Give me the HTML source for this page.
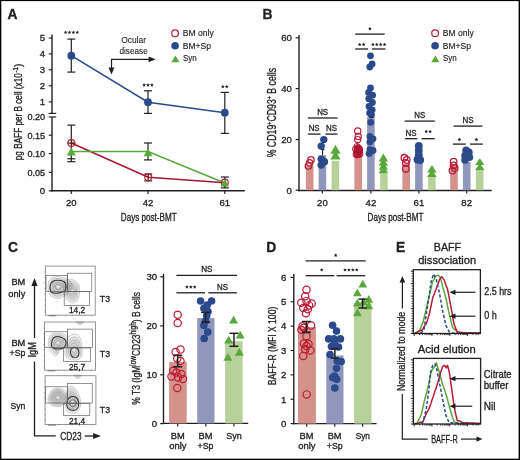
<!DOCTYPE html><html><head><meta charset="utf-8"><style>html,body{margin:0;padding:0;background:#fff;width:520px;height:460px;overflow:hidden}svg{display:block;will-change:transform}text{font-family:"Liberation Sans",sans-serif;fill:#231f20;stroke:#231f20;stroke-width:0.32px}</style></head><body>
<svg width="520" height="460" viewBox="0 0 520 460">
<rect width="520" height="460" fill="#fff"/>
<text x="7.6" y="19.0" font-size="13.8" font-weight="bold" fill="#000">A</text>
<line x1="52" y1="34.6" x2="52" y2="113.4" stroke="#231f20" stroke-width="1.4"/>
<line x1="52" y1="117.0" x2="52" y2="191.4" stroke="#231f20" stroke-width="1.4"/>
<line x1="48.7" y1="113.4" x2="56.2" y2="113.4" stroke="#231f20" stroke-width="1.2"/>
<line x1="48.7" y1="117.0" x2="56.2" y2="117.0" stroke="#231f20" stroke-width="1.2"/>
<line x1="51.3" y1="190.8" x2="244.8" y2="190.8" stroke="#231f20" stroke-width="1.4"/>
<line x1="48.8" y1="38.0" x2="52" y2="38.0" stroke="#231f20" stroke-width="1.2"/>
<text x="45.2" y="41.3" font-size="9.6" text-anchor="end">5</text>
<line x1="48.8" y1="53.9" x2="52" y2="53.9" stroke="#231f20" stroke-width="1.2"/>
<text x="45.2" y="57.199999999999996" font-size="9.6" text-anchor="end">4</text>
<line x1="48.8" y1="69.8" x2="52" y2="69.8" stroke="#231f20" stroke-width="1.2"/>
<text x="45.2" y="73.1" font-size="9.6" text-anchor="end">3</text>
<line x1="48.8" y1="85.8" x2="52" y2="85.8" stroke="#231f20" stroke-width="1.2"/>
<text x="45.2" y="89.1" font-size="9.6" text-anchor="end">2</text>
<line x1="48.8" y1="101.9" x2="52" y2="101.9" stroke="#231f20" stroke-width="1.2"/>
<text x="45.2" y="105.2" font-size="9.6" text-anchor="end">1</text>
<text x="45.2" y="120.3" font-size="9.6" text-anchor="end" textLength="17.8" lengthAdjust="spacingAndGlyphs">0.20</text>
<line x1="48.8" y1="135.2" x2="52" y2="135.2" stroke="#231f20" stroke-width="1.2"/>
<text x="45.2" y="138.5" font-size="9.6" text-anchor="end" textLength="17.8" lengthAdjust="spacingAndGlyphs">0.15</text>
<line x1="48.8" y1="153.6" x2="52" y2="153.6" stroke="#231f20" stroke-width="1.2"/>
<text x="45.2" y="156.9" font-size="9.6" text-anchor="end" textLength="17.8" lengthAdjust="spacingAndGlyphs">0.10</text>
<line x1="48.8" y1="172.4" x2="52" y2="172.4" stroke="#231f20" stroke-width="1.2"/>
<text x="45.2" y="175.70000000000002" font-size="9.6" text-anchor="end" textLength="17.8" lengthAdjust="spacingAndGlyphs">0.05</text>
<line x1="48.8" y1="190.8" x2="52" y2="190.8" stroke="#231f20" stroke-width="1.2"/>
<text x="45.2" y="194.10000000000002" font-size="9.6" text-anchor="end">0</text>
<line x1="71.3" y1="190.8" x2="71.3" y2="194.0" stroke="#231f20" stroke-width="1.2"/>
<text x="71.3" y="205.9" font-size="9.6" text-anchor="middle">20</text>
<line x1="148.0" y1="190.8" x2="148.0" y2="194.0" stroke="#231f20" stroke-width="1.2"/>
<text x="148.0" y="205.9" font-size="9.6" text-anchor="middle">42</text>
<line x1="224.8" y1="190.8" x2="224.8" y2="194.0" stroke="#231f20" stroke-width="1.2"/>
<text x="224.8" y="205.9" font-size="9.6" text-anchor="middle">61</text>
<text x="148.7" y="220.9" font-size="10" text-anchor="middle" textLength="55.8" lengthAdjust="spacingAndGlyphs">Days post-BMT</text>
<g transform="translate(22.0 160.2) rotate(-90)"><text x="0" y="0" font-size="11" textLength="87.0" lengthAdjust="spacingAndGlyphs">pg BAFF per B cell (x10</text><text x="87.6" y="-4.2" font-size="7.5" textLength="5.6" lengthAdjust="spacingAndGlyphs">-1</text><text x="93.2" y="0" font-size="11" textLength="3.4" lengthAdjust="spacingAndGlyphs">)</text></g>
<polyline points="71.3,143.1 148.2,177.2 224.8,182.8" fill="none" stroke="#a91631" stroke-width="1.6"/>
<polyline points="71.3,151.5 148.0,151.5 224.8,183.0" fill="none" stroke="#5aa83c" stroke-width="1.5"/>
<polyline points="71.3,55.7 148.0,102.2 224.8,112.7" fill="none" stroke="#2b4a8b" stroke-width="1.5"/>
<line x1="71.3" y1="39.1" x2="71.3" y2="72.1" stroke="#231f20" stroke-width="1.2"/>
<line x1="67.3" y1="39.1" x2="75.3" y2="39.1" stroke="#231f20" stroke-width="1.2"/>
<line x1="67.3" y1="72.1" x2="75.3" y2="72.1" stroke="#231f20" stroke-width="1.2"/>
<line x1="148.0" y1="90.8" x2="148.0" y2="113.4" stroke="#231f20" stroke-width="1.2"/>
<line x1="144.0" y1="90.8" x2="152.0" y2="90.8" stroke="#231f20" stroke-width="1.2"/>
<line x1="144.0" y1="113.4" x2="152.0" y2="113.4" stroke="#231f20" stroke-width="1.2"/>
<line x1="224.8" y1="92.4" x2="224.8" y2="133.4" stroke="#231f20" stroke-width="1.2"/>
<line x1="220.8" y1="92.4" x2="228.8" y2="92.4" stroke="#231f20" stroke-width="1.2"/>
<line x1="220.8" y1="133.4" x2="228.8" y2="133.4" stroke="#231f20" stroke-width="1.2"/>
<line x1="71.3" y1="125.1" x2="71.3" y2="161.7" stroke="#231f20" stroke-width="1.2"/>
<line x1="67.3" y1="125.1" x2="75.3" y2="125.1" stroke="#231f20" stroke-width="1.2"/>
<line x1="67.3" y1="161.7" x2="75.3" y2="161.7" stroke="#231f20" stroke-width="1.2"/>
<line x1="67.3" y1="158.8" x2="75.3" y2="158.8" stroke="#231f20" stroke-width="1.2"/>
<line x1="67.3" y1="143.1" x2="75.3" y2="143.1" stroke="#231f20" stroke-width="1.2"/>
<line x1="148.0" y1="143.0" x2="148.0" y2="159.9" stroke="#231f20" stroke-width="1.2"/>
<line x1="144.0" y1="143.0" x2="152.0" y2="143.0" stroke="#231f20" stroke-width="1.2"/>
<line x1="144.0" y1="159.9" x2="152.0" y2="159.9" stroke="#231f20" stroke-width="1.2"/>
<line x1="148.2" y1="174.0" x2="148.2" y2="180.9" stroke="#231f20" stroke-width="1.2"/>
<line x1="144.2" y1="174.0" x2="152.2" y2="174.0" stroke="#231f20" stroke-width="1.2"/>
<line x1="144.2" y1="180.9" x2="152.2" y2="180.9" stroke="#231f20" stroke-width="1.2"/>
<line x1="224.8" y1="177.0" x2="224.8" y2="187.9" stroke="#231f20" stroke-width="1.2"/>
<line x1="220.8" y1="177.0" x2="228.8" y2="177.0" stroke="#231f20" stroke-width="1.2"/>
<line x1="220.8" y1="187.9" x2="228.8" y2="187.9" stroke="#231f20" stroke-width="1.2"/>
<circle cx="71.3" cy="55.7" r="3.9" fill="#2b4a8b"/>
<circle cx="148.0" cy="102.2" r="3.9" fill="#2b4a8b"/>
<circle cx="224.8" cy="112.7" r="3.9" fill="#2b4a8b"/>
<circle cx="71.3" cy="143.1" r="3.5" fill="none" stroke="#bb1c38" stroke-width="1.2"/>
<circle cx="148.2" cy="177.2" r="3.4" fill="none" stroke="#bb1c38" stroke-width="1.2"/>
<circle cx="224.8" cy="182.6" r="3.4" fill="none" stroke="#bb1c38" stroke-width="1.2"/>
<polygon points="71.3,147.6 66.8,155.6 75.8,155.6" fill="#5aa83c"/>
<polygon points="148.0,148.6 143.5,156.2 152.5,156.2" fill="#5aa83c"/>
<polygon points="224.8,179.0 220.5,186.6 229.10000000000002,186.6" fill="#5aa83c"/>
<polygon points="65.55,30.40 66.08,31.67 67.45,31.78 66.41,32.68 66.73,34.02 65.55,33.30 64.37,34.02 64.69,32.68 63.65,31.78 65.02,31.67" fill="#231f20"/>
<polygon points="69.45,30.40 69.98,31.67 71.35,31.78 70.31,32.68 70.63,34.02 69.45,33.30 68.27,34.02 68.59,32.68 67.55,31.78 68.92,31.67" fill="#231f20"/>
<polygon points="73.35,30.40 73.88,31.67 75.25,31.78 74.21,32.68 74.53,34.02 73.35,33.30 72.17,34.02 72.49,32.68 71.45,31.78 72.82,31.67" fill="#231f20"/>
<polygon points="77.25,30.40 77.78,31.67 79.15,31.78 78.11,32.68 78.43,34.02 77.25,33.30 76.07,34.02 76.39,32.68 75.35,31.78 76.72,31.67" fill="#231f20"/>
<polygon points="144.10,83.10 144.63,84.37 146.00,84.48 144.96,85.38 145.28,86.72 144.10,86.00 142.92,86.72 143.24,85.38 142.20,84.48 143.57,84.37" fill="#231f20"/>
<polygon points="148.00,83.10 148.53,84.37 149.90,84.48 148.86,85.38 149.18,86.72 148.00,86.00 146.82,86.72 147.14,85.38 146.10,84.48 147.47,84.37" fill="#231f20"/>
<polygon points="151.90,83.10 152.43,84.37 153.80,84.48 152.76,85.38 153.08,86.72 151.90,86.00 150.72,86.72 151.04,85.38 150.00,84.48 151.37,84.37" fill="#231f20"/>
<polygon points="222.85,84.70 223.38,85.97 224.75,86.08 223.71,86.98 224.03,88.32 222.85,87.60 221.67,88.32 221.99,86.98 220.95,86.08 222.32,85.97" fill="#231f20"/>
<polygon points="226.75,84.70 227.28,85.97 228.65,86.08 227.61,86.98 227.93,88.32 226.75,87.60 225.57,88.32 225.89,86.98 224.85,86.08 226.22,85.97" fill="#231f20"/>
<text x="133.6" y="43.3" font-size="8.8" text-anchor="middle" textLength="24.8" lengthAdjust="spacingAndGlyphs" style="stroke-width:0.12px">Ocular</text>
<text x="133.6" y="53.5" font-size="8.8" text-anchor="middle" textLength="28.3" lengthAdjust="spacingAndGlyphs" style="stroke-width:0.12px">disease</text>
<polyline points="150,59.3 111.5,59.3 111.5,69" fill="none" stroke="#231f20" stroke-width="1.2"/>
<polygon points="155.6,59.3 148.6,56.4 148.6,62.199999999999996" fill="#231f20"/>
<polygon points="111.5,74.6 108.6,67.6 114.4,67.6" fill="#231f20"/>
<circle cx="175.1" cy="33.2" r="3.4" fill="none" stroke="#bb1c38" stroke-width="1.2"/>
<circle cx="175.1" cy="45.8" r="3.8" fill="#2b4a8b"/>
<polygon points="175.4,55.4 171.3,62.199999999999996 179.5,62.199999999999996" fill="#5aa83c"/>
<text x="182.79999999999998" y="36.4" font-size="8.8" textLength="30.9" lengthAdjust="spacingAndGlyphs" style="stroke-width:0.15px">BM only</text>
<text x="182.79999999999998" y="49.0" font-size="8.8" textLength="28.2" lengthAdjust="spacingAndGlyphs" style="stroke-width:0.15px">BM+Sp</text>
<text x="183.0" y="61.2" font-size="8.8" textLength="13.8" lengthAdjust="spacingAndGlyphs" style="stroke-width:0.15px">Syn</text>
<text x="262.6" y="18.8" font-size="13.8" font-weight="bold" fill="#000">B</text>
<line x1="299.0" y1="35.0" x2="299.0" y2="191.2" stroke="#231f20" stroke-width="1.4"/>
<line x1="295.6" y1="37.8" x2="299.0" y2="37.8" stroke="#231f20" stroke-width="1.2"/>
<text x="291.8" y="41.099999999999994" font-size="9.6" text-anchor="end">60</text>
<line x1="295.6" y1="88.6" x2="299.0" y2="88.6" stroke="#231f20" stroke-width="1.2"/>
<text x="291.8" y="91.89999999999999" font-size="9.6" text-anchor="end">40</text>
<line x1="295.6" y1="139.5" x2="299.0" y2="139.5" stroke="#231f20" stroke-width="1.2"/>
<text x="291.8" y="142.8" font-size="9.6" text-anchor="end">20</text>
<line x1="295.6" y1="190.2" x2="299.0" y2="190.2" stroke="#231f20" stroke-width="1.2"/>
<text x="291.8" y="193.5" font-size="9.6" text-anchor="end">0</text>
<line x1="298.3" y1="190.5" x2="491.7" y2="190.5" stroke="#231f20" stroke-width="1.4"/>
<line x1="322.4" y1="190.5" x2="322.4" y2="193.6" stroke="#231f20" stroke-width="1.2"/>
<text x="322.4" y="205.9" font-size="9.6" text-anchor="middle">20</text>
<line x1="370.9" y1="190.5" x2="370.9" y2="193.6" stroke="#231f20" stroke-width="1.2"/>
<text x="370.9" y="205.9" font-size="9.6" text-anchor="middle">42</text>
<line x1="418.9" y1="190.5" x2="418.9" y2="193.6" stroke="#231f20" stroke-width="1.2"/>
<text x="418.9" y="205.9" font-size="9.6" text-anchor="middle">61</text>
<line x1="466.7" y1="190.5" x2="466.7" y2="193.6" stroke="#231f20" stroke-width="1.2"/>
<text x="466.7" y="205.9" font-size="9.6" text-anchor="middle">82</text>
<text x="395.5" y="221.0" font-size="10" text-anchor="middle" textLength="55.8" lengthAdjust="spacingAndGlyphs">Days post-BMT</text>
<text x="0" y="0" font-size="12.3" text-anchor="middle" transform="translate(276.0 112.6) rotate(-90)" textLength="89.5" lengthAdjust="spacingAndGlyphs">% CD19<tspan font-size="7.5" dy="-4">+</tspan><tspan dy="4">CD93</tspan><tspan font-size="7.5" dy="-4">+</tspan><tspan dy="4"> B cells</tspan></text>
<rect x="305.9" y="165.7" width="7.6" height="24.5" fill="#d5928a"/>
<rect x="318.59999999999997" y="155.3" width="7.6" height="34.89999999999998" fill="#9197bc"/>
<rect x="331.59999999999997" y="160.8" width="7.6" height="29.399999999999977" fill="#b8d19a"/>
<rect x="354.4" y="156.8" width="7.6" height="33.39999999999998" fill="#d5928a"/>
<rect x="367.09999999999997" y="117.0" width="7.6" height="73.19999999999999" fill="#9197bc"/>
<rect x="380.09999999999997" y="173.2" width="7.6" height="17.0" fill="#b8d19a"/>
<rect x="402.4" y="164.0" width="7.6" height="26.19999999999999" fill="#d5928a"/>
<rect x="415.09999999999997" y="163.0" width="7.6" height="27.19999999999999" fill="#9197bc"/>
<rect x="428.09999999999997" y="176.5" width="7.6" height="13.699999999999989" fill="#b8d19a"/>
<rect x="450.2" y="163.8" width="7.6" height="26.399999999999977" fill="#d5928a"/>
<rect x="462.9" y="162.0" width="7.6" height="28.19999999999999" fill="#9197bc"/>
<rect x="475.9" y="169.7" width="7.6" height="20.5" fill="#b8d19a"/>
<circle cx="311.0" cy="159.8" r="3.2" fill="none" stroke="#bb1c38" stroke-width="1.3"/>
<circle cx="309.6" cy="162.8" r="3.2" fill="none" stroke="#bb1c38" stroke-width="1.3"/>
<circle cx="308.4" cy="166.0" r="3.2" fill="none" stroke="#bb1c38" stroke-width="1.3"/>
<line x1="322.6" y1="149.6" x2="322.6" y2="155.5" stroke="#231f20" stroke-width="1.1"/>
<line x1="320.8" y1="149.6" x2="324.4" y2="149.6" stroke="#231f20" stroke-width="1.1"/>
<circle cx="323.8" cy="139.6" r="3.7" fill="#2b4a8b"/>
<circle cx="321.2" cy="146.1" r="3.7" fill="#2b4a8b"/>
<circle cx="321.2" cy="159.1" r="3.7" fill="#2b4a8b"/>
<circle cx="324.5" cy="161.8" r="3.7" fill="#2b4a8b"/>
<circle cx="321.2" cy="165.1" r="3.7" fill="#2b4a8b"/>
<polygon points="335.5,144.8 330.4,153.8 340.6,153.8" fill="#5aa83c"/>
<polygon points="335.5,150.5 330.4,159.5 340.6,159.5" fill="#5aa83c"/>
<circle cx="357.7" cy="131.0" r="3.1" fill="none" stroke="#bb1c38" stroke-width="1.2"/>
<circle cx="358.2" cy="136.4" r="3.1" fill="none" stroke="#bb1c38" stroke-width="1.2"/>
<circle cx="357.7" cy="139.6" r="3.1" fill="none" stroke="#bb1c38" stroke-width="1.2"/>
<path d="M354.00,147.50 C354.67,146.08 356.17,144.17 357.50,144.00 C358.83,143.83 361.08,145.17 362.00,146.50 C362.92,147.83 363.25,150.17 363.00,152.00 C362.75,153.83 361.83,156.53 360.50,157.50 C359.17,158.47 356.17,158.63 355.00,157.80 C353.83,156.97 353.67,154.22 353.50,152.50 C353.33,150.78 353.33,148.92 354.00,147.50Z" fill="#bb1c38"/>
<circle cx="357" cy="146.5" r="3.0" fill="none" stroke="#a8142c" stroke-width="1.0"/>
<circle cx="355.5" cy="149" r="3.0" fill="none" stroke="#a8142c" stroke-width="1.0"/>
<circle cx="359.5" cy="149.5" r="3.0" fill="none" stroke="#a8142c" stroke-width="1.0"/>
<circle cx="357.5" cy="152.5" r="3.0" fill="none" stroke="#a8142c" stroke-width="1.0"/>
<circle cx="360" cy="154" r="3.0" fill="none" stroke="#a8142c" stroke-width="1.0"/>
<circle cx="356" cy="154.5" r="3.0" fill="none" stroke="#a8142c" stroke-width="1.0"/>
<circle cx="370.5" cy="55.8" r="3.4" fill="#2b4a8b"/>
<circle cx="372.1" cy="64.0" r="3.4" fill="#2b4a8b"/>
<circle cx="369.8" cy="67.0" r="3.4" fill="#2b4a8b"/>
<circle cx="370.5" cy="88.0" r="3.4" fill="#2b4a8b"/>
<circle cx="368.6" cy="92.5" r="3.4" fill="#2b4a8b"/>
<circle cx="372.6" cy="95.2" r="3.4" fill="#2b4a8b"/>
<circle cx="368.8" cy="98.7" r="3.4" fill="#2b4a8b"/>
<circle cx="372.4" cy="102.5" r="3.4" fill="#2b4a8b"/>
<circle cx="369.0" cy="106.5" r="3.4" fill="#2b4a8b"/>
<circle cx="372.2" cy="109.8" r="3.4" fill="#2b4a8b"/>
<circle cx="369.6" cy="113.0" r="3.4" fill="#2b4a8b"/>
<circle cx="371.5" cy="114.8" r="3.4" fill="#2b4a8b"/>
<circle cx="370.7" cy="122.3" r="3.4" fill="#2b4a8b"/>
<circle cx="369.9" cy="136.4" r="3.4" fill="#2b4a8b"/>
<circle cx="373.0" cy="138.8" r="3.4" fill="#2b4a8b"/>
<circle cx="369.9" cy="141.9" r="3.4" fill="#2b4a8b"/>
<circle cx="369.9" cy="149.7" r="3.4" fill="#2b4a8b"/>
<circle cx="373.0" cy="150.5" r="3.4" fill="#2b4a8b"/>
<circle cx="369.1" cy="153.6" r="3.4" fill="#2b4a8b"/>
<line x1="368.9" y1="117" x2="372.9" y2="117" stroke="#231f20" stroke-width="1.0"/>
<polygon points="383.4,153.6 378.7,161.4 388.09999999999997,161.4" fill="#5aa83c"/>
<polygon points="383.4,158.0 378.7,165.8 388.09999999999997,165.8" fill="#5aa83c"/>
<polygon points="383.4,162.0 378.7,169.8 388.09999999999997,169.8" fill="#5aa83c"/>
<polygon points="383.4,165.5 378.7,173.3 388.09999999999997,173.3" fill="#5aa83c"/>
<circle cx="404.4" cy="157.8" r="3.3" fill="none" stroke="#bb1c38" stroke-width="1.3"/>
<circle cx="406.7" cy="160.0" r="3.3" fill="none" stroke="#bb1c38" stroke-width="1.3"/>
<circle cx="405.8" cy="163.0" r="3.3" fill="none" stroke="#bb1c38" stroke-width="1.3"/>
<circle cx="405.8" cy="168.7" r="3.3" fill="none" stroke="#bb1c38" stroke-width="1.3"/>
<circle cx="418.8" cy="146.0" r="3.9" fill="#2b4a8b"/>
<circle cx="418.8" cy="150.5" r="3.9" fill="#2b4a8b"/>
<circle cx="418.8" cy="155.0" r="3.9" fill="#2b4a8b"/>
<circle cx="417.5" cy="159.5" r="3.9" fill="#2b4a8b"/>
<circle cx="420.2" cy="160.0" r="3.9" fill="#2b4a8b"/>
<polygon points="431.9,165.1 427.09999999999997,172.5 436.7,172.5" fill="#5aa83c"/>
<polygon points="431.9,169.6 427.09999999999997,177.0 436.7,177.0" fill="#5aa83c"/>
<circle cx="453.6" cy="161.6" r="3.3" fill="none" stroke="#bb1c38" stroke-width="1.3"/>
<circle cx="453.6" cy="165.4" r="3.3" fill="none" stroke="#bb1c38" stroke-width="1.3"/>
<circle cx="454.7" cy="168.0" r="3.3" fill="none" stroke="#bb1c38" stroke-width="1.3"/>
<circle cx="452.5" cy="170.6" r="3.3" fill="none" stroke="#bb1c38" stroke-width="1.3"/>
<circle cx="466.1" cy="150.2" r="3.8" fill="#2b4a8b"/>
<circle cx="468.9" cy="152.3" r="3.8" fill="#2b4a8b"/>
<circle cx="465.0" cy="155.6" r="3.8" fill="#2b4a8b"/>
<circle cx="469.4" cy="157.2" r="3.8" fill="#2b4a8b"/>
<circle cx="465.0" cy="160.0" r="3.8" fill="#2b4a8b"/>
<polygon points="479.8,158.3 475.1,165.10000000000002 484.5,165.10000000000002" fill="#5aa83c"/>
<polygon points="479.8,163.2 475.1,170.0 484.5,170.0" fill="#5aa83c"/>
<line x1="307.8" y1="118.0" x2="337.5" y2="118.0" stroke="#231f20" stroke-width="1.3"/>
<text x="322.65" y="115.3" font-size="9" text-anchor="middle" textLength="11.0" lengthAdjust="spacingAndGlyphs">NS</text>
<line x1="307.8" y1="134.1" x2="320.5" y2="134.1" stroke="#231f20" stroke-width="1.3"/>
<text x="314.15" y="131.4" font-size="9" text-anchor="middle" textLength="11.0" lengthAdjust="spacingAndGlyphs">NS</text>
<line x1="325.4" y1="134.1" x2="337.5" y2="134.1" stroke="#231f20" stroke-width="1.3"/>
<text x="331.45" y="131.4" font-size="9" text-anchor="middle" textLength="11.0" lengthAdjust="spacingAndGlyphs">NS</text>
<line x1="355.2" y1="34.1" x2="384.7" y2="34.1" stroke="#231f20" stroke-width="1.3"/>
<polygon points="369.95,26.80 370.48,28.07 371.85,28.18 370.81,29.08 371.13,30.42 369.95,29.70 368.77,30.42 369.09,29.08 368.05,28.18 369.42,28.07" fill="#231f20"/>
<line x1="355.2" y1="49.0" x2="368.1" y2="49.0" stroke="#231f20" stroke-width="1.3"/>
<polygon points="359.70,42.50 360.23,43.77 361.60,43.88 360.56,44.78 360.88,46.12 359.70,45.40 358.52,46.12 358.84,44.78 357.80,43.88 359.17,43.77" fill="#231f20"/>
<polygon points="363.60,42.50 364.13,43.77 365.50,43.88 364.46,44.78 364.78,46.12 363.60,45.40 362.42,46.12 362.74,44.78 361.70,43.88 363.07,43.77" fill="#231f20"/>
<line x1="372.0" y1="49.0" x2="385.5" y2="49.0" stroke="#231f20" stroke-width="1.3"/>
<polygon points="372.90,42.50 373.43,43.77 374.80,43.88 373.76,44.78 374.08,46.12 372.90,45.40 371.72,46.12 372.04,44.78 371.00,43.88 372.37,43.77" fill="#231f20"/>
<polygon points="376.80,42.50 377.33,43.77 378.70,43.88 377.66,44.78 377.98,46.12 376.80,45.40 375.62,46.12 375.94,44.78 374.90,43.88 376.27,43.77" fill="#231f20"/>
<polygon points="380.70,42.50 381.23,43.77 382.60,43.88 381.56,44.78 381.88,46.12 380.70,45.40 379.52,46.12 379.84,44.78 378.80,43.88 380.17,43.77" fill="#231f20"/>
<polygon points="384.60,42.50 385.13,43.77 386.50,43.88 385.46,44.78 385.78,46.12 384.60,45.40 383.42,46.12 383.74,44.78 382.70,43.88 384.07,43.77" fill="#231f20"/>
<line x1="404.8" y1="121.1" x2="434.8" y2="121.1" stroke="#231f20" stroke-width="1.3"/>
<text x="419.8" y="118.39999999999999" font-size="9" text-anchor="middle" textLength="11.0" lengthAdjust="spacingAndGlyphs">NS</text>
<line x1="404.8" y1="138.7" x2="417.4" y2="138.7" stroke="#231f20" stroke-width="1.3"/>
<text x="411.1" y="136.0" font-size="9" text-anchor="middle" textLength="11.0" lengthAdjust="spacingAndGlyphs">NS</text>
<line x1="421.5" y1="138.7" x2="434.8" y2="138.7" stroke="#231f20" stroke-width="1.3"/>
<polygon points="426.20,129.50 426.73,130.77 428.10,130.88 427.06,131.78 427.38,133.12 426.20,132.40 425.02,133.12 425.34,131.78 424.30,130.88 425.67,130.77" fill="#231f20"/>
<polygon points="430.10,129.50 430.63,130.77 432.00,130.88 430.96,131.78 431.28,133.12 430.10,132.40 428.92,133.12 429.24,131.78 428.20,130.88 429.57,130.77" fill="#231f20"/>
<line x1="453.5" y1="126.1" x2="482.4" y2="126.1" stroke="#231f20" stroke-width="1.3"/>
<text x="467.95" y="123.39999999999999" font-size="9" text-anchor="middle" textLength="11.0" lengthAdjust="spacingAndGlyphs">NS</text>
<line x1="453.0" y1="144.1" x2="465.7" y2="144.1" stroke="#231f20" stroke-width="1.3"/>
<polygon points="459.35,137.60 459.88,138.87 461.25,138.98 460.21,139.88 460.53,141.22 459.35,140.50 458.17,141.22 458.49,139.88 457.45,138.98 458.82,138.87" fill="#231f20"/>
<line x1="470.0" y1="144.1" x2="482.8" y2="144.1" stroke="#231f20" stroke-width="1.3"/>
<polygon points="476.40,137.60 476.93,138.87 478.30,138.98 477.26,139.88 477.58,141.22 476.40,140.50 475.22,141.22 475.54,139.88 474.50,138.98 475.87,138.87" fill="#231f20"/>
<circle cx="435.1" cy="33.2" r="3.4" fill="none" stroke="#bb1c38" stroke-width="1.2"/>
<circle cx="435.1" cy="45.8" r="3.8" fill="#2b4a8b"/>
<polygon points="435.40000000000003,55.4 431.3,62.199999999999996 439.50000000000006,62.199999999999996" fill="#5aa83c"/>
<text x="442.8" y="36.4" font-size="8.8" textLength="30.9" lengthAdjust="spacingAndGlyphs" style="stroke-width:0.15px">BM only</text>
<text x="442.8" y="49.0" font-size="8.8" textLength="28.2" lengthAdjust="spacingAndGlyphs" style="stroke-width:0.15px">BM+Sp</text>
<text x="443.0" y="61.2" font-size="8.8" textLength="13.8" lengthAdjust="spacingAndGlyphs" style="stroke-width:0.15px">Syn</text>
<text x="8.0" y="252.1" font-size="13.8" font-weight="bold" fill="#000">C</text>
<rect x="45.4" y="266.1" width="49.800000000000004" height="49.099999999999966" fill="none" stroke="#8a8a8a" stroke-width="0.9"/>
<line x1="44.4" y1="272.1" x2="45.699999999999996" y2="272.1" stroke="#777" stroke-width="0.6"/>
<line x1="44.4" y1="277.6" x2="45.699999999999996" y2="277.6" stroke="#777" stroke-width="0.6"/>
<line x1="44.4" y1="283.1" x2="45.699999999999996" y2="283.1" stroke="#777" stroke-width="0.6"/>
<line x1="44.4" y1="288.6" x2="45.699999999999996" y2="288.6" stroke="#777" stroke-width="0.6"/>
<line x1="44.4" y1="294.1" x2="45.699999999999996" y2="294.1" stroke="#777" stroke-width="0.6"/>
<line x1="44.4" y1="299.6" x2="45.699999999999996" y2="299.6" stroke="#777" stroke-width="0.6"/>
<line x1="44.4" y1="305.1" x2="45.699999999999996" y2="305.1" stroke="#777" stroke-width="0.6"/>
<line x1="44.4" y1="310.6" x2="45.699999999999996" y2="310.6" stroke="#777" stroke-width="0.6"/>
<line x1="48.4" y1="315.8" x2="56.4" y2="315.8" stroke="#666" stroke-width="0.9"/>
<line x1="59.4" y1="314.9" x2="59.4" y2="316.2" stroke="#888" stroke-width="0.6"/>
<line x1="65.9" y1="314.9" x2="65.9" y2="316.2" stroke="#888" stroke-width="0.6"/>
<line x1="72.4" y1="314.9" x2="72.4" y2="316.2" stroke="#888" stroke-width="0.6"/>
<line x1="78.9" y1="314.9" x2="78.9" y2="316.2" stroke="#888" stroke-width="0.6"/>
<line x1="85.4" y1="314.9" x2="85.4" y2="316.2" stroke="#888" stroke-width="0.6"/>
<line x1="91.9" y1="314.9" x2="91.9" y2="316.2" stroke="#888" stroke-width="0.6"/>
<path d="M64.50,281.00 C65.83,278.58 69.67,279.00 72.00,279.50 C74.33,280.00 77.25,281.92 78.50,284.00 C79.75,286.08 79.58,289.33 79.50,292.00 C79.42,294.67 79.08,298.17 78.00,300.00 C76.92,301.83 74.83,303.00 73.00,303.00 C71.17,303.00 68.50,301.50 67.00,300.00 C65.50,298.50 64.42,297.17 64.00,294.00 C63.58,290.83 63.17,283.42 64.50,281.00Z" fill="#000" fill-opacity="0.06" stroke="#7a7a7a" stroke-opacity="0.55" stroke-width="0.6"/>
<path d="M65.91,282.88 C66.99,280.91 70.10,281.25 72.00,281.66 C73.90,282.06 76.27,283.62 77.28,285.31 C78.30,287.01 78.16,289.65 78.09,291.81 C78.03,293.98 77.76,296.82 76.88,298.31 C75.99,299.80 74.30,300.75 72.81,300.75 C71.32,300.75 69.16,299.53 67.94,298.31 C66.72,297.09 65.84,296.01 65.50,293.44 C65.16,290.86 64.82,284.84 65.91,282.88Z" fill="#000" fill-opacity="0.06" stroke="#7a7a7a" stroke-opacity="0.55" stroke-width="0.6"/>
<path d="M67.31,284.75 C68.15,283.24 70.54,283.50 72.00,283.81 C73.46,284.12 75.28,285.32 76.06,286.62 C76.84,287.93 76.74,289.96 76.69,291.62 C76.64,293.29 76.43,295.48 75.75,296.62 C75.07,297.77 73.77,298.50 72.62,298.50 C71.48,298.50 69.81,297.56 68.88,296.62 C67.94,295.69 67.26,294.85 67.00,292.88 C66.74,290.90 66.48,286.26 67.31,284.75Z" fill="#000" fill-opacity="0.06" stroke="#7a7a7a" stroke-opacity="0.55" stroke-width="0.6"/>
<path d="M68.72,286.62 C69.30,285.57 70.98,285.75 72.00,285.97 C73.02,286.19 74.30,287.03 74.84,287.94 C75.39,288.85 75.32,290.27 75.28,291.44 C75.24,292.60 75.10,294.14 74.62,294.94 C74.15,295.74 73.24,296.25 72.44,296.25 C71.64,296.25 70.47,295.59 69.81,294.94 C69.16,294.28 68.68,293.70 68.50,292.31 C68.32,290.93 68.14,287.68 68.72,286.62Z" fill="#000" fill-opacity="0" stroke="#7a7a7a" stroke-opacity="0.55" stroke-width="0.6"/>
<path d="M70.12,288.50 C70.46,287.90 71.42,288.00 72.00,288.12 C72.58,288.25 73.31,288.73 73.62,289.25 C73.94,289.77 73.90,290.58 73.88,291.25 C73.85,291.92 73.77,292.79 73.50,293.25 C73.23,293.71 72.71,294.00 72.25,294.00 C71.79,294.00 71.12,293.62 70.75,293.25 C70.38,292.88 70.10,292.54 70.00,291.75 C69.90,290.96 69.79,289.10 70.12,288.50Z" fill="#000" fill-opacity="0" stroke="#7a7a7a" stroke-opacity="0.55" stroke-width="0.6"/>
<ellipse cx="72" cy="291" rx="1.3" ry="1.0" fill="#fff" fill-opacity="0.6"/>
<path d="M48.00,285.00 C48.33,282.08 49.67,278.83 52.00,277.50 C54.33,276.17 59.00,276.42 62.00,277.00 C65.00,277.58 68.33,279.17 70.00,281.00 C71.67,282.83 72.67,285.67 72.00,288.00 C71.33,290.33 68.33,293.25 66.00,295.00 C63.67,296.75 60.67,298.50 58.00,298.50 C55.33,298.50 51.67,297.25 50.00,295.00 C48.33,292.75 47.67,287.92 48.00,285.00Z" fill="#000" fill-opacity="0.07" stroke="#7a7a7a" stroke-opacity="0.55" stroke-width="0.6"/>
<path d="M49.88,285.38 C50.15,283.01 51.23,280.36 53.12,279.28 C55.02,278.20 58.81,278.40 61.25,278.88 C63.69,279.35 66.40,280.64 67.75,282.12 C69.10,283.61 69.92,285.92 69.38,287.81 C68.83,289.71 66.40,292.08 64.50,293.50 C62.60,294.92 60.17,296.34 58.00,296.34 C55.83,296.34 52.85,295.33 51.50,293.50 C50.15,291.67 49.60,287.74 49.88,285.38Z" fill="#000" fill-opacity="0.07" stroke="#7a7a7a" stroke-opacity="0.55" stroke-width="0.6"/>
<path d="M51.75,285.75 C51.96,283.93 52.79,281.90 54.25,281.06 C55.71,280.23 58.62,280.39 60.50,280.75 C62.38,281.11 64.46,282.10 65.50,283.25 C66.54,284.40 67.17,286.17 66.75,287.62 C66.33,289.08 64.46,290.91 63.00,292.00 C61.54,293.09 59.67,294.19 58.00,294.19 C56.33,294.19 54.04,293.41 53.00,292.00 C51.96,290.59 51.54,287.57 51.75,285.75Z" fill="#000" fill-opacity="0.07" stroke="#7a7a7a" stroke-opacity="0.55" stroke-width="0.6"/>
<path d="M53.62,286.12 C53.77,284.85 54.35,283.43 55.38,282.84 C56.40,282.26 58.44,282.37 59.75,282.62 C61.06,282.88 62.52,283.57 63.25,284.38 C63.98,285.18 64.42,286.42 64.12,287.44 C63.83,288.46 62.52,289.73 61.50,290.50 C60.48,291.27 59.17,292.03 58.00,292.03 C56.83,292.03 55.23,291.48 54.50,290.50 C53.77,289.52 53.48,287.40 53.62,286.12Z" fill="#000" fill-opacity="0" stroke="#7a7a7a" stroke-opacity="0.55" stroke-width="0.6"/>
<path d="M55.50,286.50 C55.58,285.77 55.92,284.96 56.50,284.62 C57.08,284.29 58.25,284.35 59.00,284.50 C59.75,284.65 60.58,285.04 61.00,285.50 C61.42,285.96 61.67,286.67 61.50,287.25 C61.33,287.83 60.58,288.56 60.00,289.00 C59.42,289.44 58.67,289.88 58.00,289.88 C57.33,289.88 56.42,289.56 56.00,289.00 C55.58,288.44 55.42,287.23 55.50,286.50Z" fill="#000" fill-opacity="0" stroke="#7a7a7a" stroke-opacity="0.55" stroke-width="0.6"/>
<ellipse cx="58" cy="287" rx="1.3" ry="1.0" fill="#fff" fill-opacity="0.6"/>
<path d="M50.00,287.00 C50.17,285.12 51.17,282.27 53.00,281.20 C54.83,280.13 58.92,280.22 61.00,280.60 C63.08,280.98 64.83,281.85 65.50,283.50 C66.17,285.15 66.00,288.95 65.00,290.50 C64.00,292.05 61.67,292.47 59.50,292.80 C57.33,293.13 53.58,293.47 52.00,292.50 C50.42,291.53 49.83,288.88 50.00,287.00Z" fill="none" stroke="#3a3a3a" stroke-width="1.05"/>
<path d="M54.50,286.50 C54.33,285.58 55.92,284.33 57.00,284.00 C58.08,283.67 60.17,283.92 61.00,284.50 C61.83,285.08 62.50,286.67 62.00,287.50 C61.50,288.33 59.25,289.67 58.00,289.50 C56.75,289.33 54.67,287.42 54.50,286.50Z" fill="none" stroke="#888" stroke-width="0.6"/>
<rect x="46.0" y="275.5" width="21.599999999999994" height="16.100000000000023" fill="none" stroke="#5c5c5c" stroke-width="0.65"/>
<rect x="67.6" y="273.2" width="24.200000000000003" height="18.400000000000034" fill="none" stroke="#5c5c5c" stroke-width="0.65"/>
<rect x="64.2" y="291.6" width="25.299999999999997" height="13.899999999999977" fill="none" stroke="#5c5c5c" stroke-width="0.65"/>
<text x="77.0" y="313.3" font-size="9" text-anchor="middle" textLength="16.2" lengthAdjust="spacingAndGlyphs">14,2</text>
<text x="99.8" y="301.8" font-size="8.8" textLength="10.2" lengthAdjust="spacingAndGlyphs">T3</text>
<rect x="44.5" y="322.0" width="51.0" height="48.19999999999999" fill="none" stroke="#8a8a8a" stroke-width="0.9"/>
<line x1="43.5" y1="328.0" x2="44.8" y2="328.0" stroke="#777" stroke-width="0.6"/>
<line x1="43.5" y1="333.5" x2="44.8" y2="333.5" stroke="#777" stroke-width="0.6"/>
<line x1="43.5" y1="339.0" x2="44.8" y2="339.0" stroke="#777" stroke-width="0.6"/>
<line x1="43.5" y1="344.5" x2="44.8" y2="344.5" stroke="#777" stroke-width="0.6"/>
<line x1="43.5" y1="350.0" x2="44.8" y2="350.0" stroke="#777" stroke-width="0.6"/>
<line x1="43.5" y1="355.5" x2="44.8" y2="355.5" stroke="#777" stroke-width="0.6"/>
<line x1="43.5" y1="361.0" x2="44.8" y2="361.0" stroke="#777" stroke-width="0.6"/>
<line x1="43.5" y1="366.5" x2="44.8" y2="366.5" stroke="#777" stroke-width="0.6"/>
<line x1="47.5" y1="370.8" x2="55.5" y2="370.8" stroke="#666" stroke-width="0.9"/>
<line x1="58.5" y1="369.9" x2="58.5" y2="371.2" stroke="#888" stroke-width="0.6"/>
<line x1="65.0" y1="369.9" x2="65.0" y2="371.2" stroke="#888" stroke-width="0.6"/>
<line x1="71.5" y1="369.9" x2="71.5" y2="371.2" stroke="#888" stroke-width="0.6"/>
<line x1="78.0" y1="369.9" x2="78.0" y2="371.2" stroke="#888" stroke-width="0.6"/>
<line x1="84.5" y1="369.9" x2="84.5" y2="371.2" stroke="#888" stroke-width="0.6"/>
<line x1="91.0" y1="369.9" x2="91.0" y2="371.2" stroke="#888" stroke-width="0.6"/>
<path d="M76.00,322.20 C76.00,321.70 78.67,321.60 80.00,321.60 C81.33,321.60 84.00,321.70 84.00,322.20 C84.00,322.70 81.33,324.60 80.00,324.60 C78.67,324.60 76.00,322.70 76.00,322.20Z" fill="#000" fill-opacity="0.1" stroke="#7a7a7a" stroke-opacity="0.55" stroke-width="0.6"/>
<path d="M79.00,322.80 C79.00,322.68 79.67,322.65 80.00,322.65 C80.33,322.65 81.00,322.68 81.00,322.80 C81.00,322.93 80.33,323.40 80.00,323.40 C79.67,323.40 79.00,322.93 79.00,322.80Z" fill="#000" fill-opacity="0" stroke="#7a7a7a" stroke-opacity="0.55" stroke-width="0.6"/>
<path d="M48.50,341.00 C48.83,338.33 49.75,335.25 52.00,334.00 C54.25,332.75 59.50,333.00 62.00,333.50 C64.50,334.00 66.25,334.92 67.00,337.00 C67.75,339.08 67.67,343.83 66.50,346.00 C65.33,348.17 61.75,348.33 60.00,350.00 C58.25,351.67 57.67,356.00 56.00,356.00 C54.33,356.00 51.25,352.50 50.00,350.00 C48.75,347.50 48.17,343.67 48.50,341.00Z" fill="#000" fill-opacity="0.07" stroke="#7a7a7a" stroke-opacity="0.55" stroke-width="0.6"/>
<path d="M50.28,341.38 C50.55,339.21 51.30,336.70 53.12,335.69 C54.95,334.67 59.22,334.88 61.25,335.28 C63.28,335.69 64.70,336.43 65.31,338.12 C65.92,339.82 65.85,343.68 64.91,345.44 C63.96,347.20 61.05,347.33 59.62,348.69 C58.20,350.04 57.73,353.56 56.38,353.56 C55.02,353.56 52.52,350.72 51.50,348.69 C50.48,346.66 50.01,343.54 50.28,341.38Z" fill="#000" fill-opacity="0.07" stroke="#7a7a7a" stroke-opacity="0.55" stroke-width="0.6"/>
<path d="M52.06,341.75 C52.27,340.08 52.84,338.16 54.25,337.38 C55.66,336.59 58.94,336.75 60.50,337.06 C62.06,337.38 63.16,337.95 63.62,339.25 C64.09,340.55 64.04,343.52 63.31,344.88 C62.58,346.23 60.34,346.33 59.25,347.38 C58.16,348.42 57.79,351.12 56.75,351.12 C55.71,351.12 53.78,348.94 53.00,347.38 C52.22,345.81 51.85,343.42 52.06,341.75Z" fill="#000" fill-opacity="0.07" stroke="#7a7a7a" stroke-opacity="0.55" stroke-width="0.6"/>
<path d="M53.84,342.12 C53.99,340.96 54.39,339.61 55.38,339.06 C56.36,338.52 58.66,338.62 59.75,338.84 C60.84,339.06 61.61,339.46 61.94,340.38 C62.27,341.29 62.23,343.36 61.72,344.31 C61.21,345.26 59.64,345.33 58.88,346.06 C58.11,346.79 57.85,348.69 57.12,348.69 C56.40,348.69 55.05,347.16 54.50,346.06 C53.95,344.97 53.70,343.29 53.84,342.12Z" fill="#000" fill-opacity="0" stroke="#7a7a7a" stroke-opacity="0.55" stroke-width="0.6"/>
<path d="M55.62,342.50 C55.71,341.83 55.94,341.06 56.50,340.75 C57.06,340.44 58.38,340.50 59.00,340.62 C59.62,340.75 60.06,340.98 60.25,341.50 C60.44,342.02 60.42,343.21 60.12,343.75 C59.83,344.29 58.94,344.33 58.50,344.75 C58.06,345.17 57.92,346.25 57.50,346.25 C57.08,346.25 56.31,345.38 56.00,344.75 C55.69,344.12 55.54,343.17 55.62,342.50Z" fill="#000" fill-opacity="0" stroke="#7a7a7a" stroke-opacity="0.55" stroke-width="0.6"/>
<ellipse cx="58" cy="343" rx="1.3" ry="1.0" fill="#fff" fill-opacity="0.6"/>
<path d="M66.00,340.00 C67.17,337.58 69.83,335.17 72.00,334.50 C74.17,333.83 77.33,334.08 79.00,336.00 C80.67,337.92 81.58,342.50 82.00,346.00 C82.42,349.50 82.83,354.67 81.50,357.00 C80.17,359.33 76.58,360.00 74.00,360.00 C71.42,360.00 67.50,358.83 66.00,357.00 C64.50,355.17 65.00,351.83 65.00,349.00 C65.00,346.17 64.83,342.42 66.00,340.00Z" fill="#000" fill-opacity="0.06" stroke="#7a7a7a" stroke-opacity="0.55" stroke-width="0.6"/>
<path d="M67.50,341.88 C68.45,339.91 70.61,337.95 72.38,337.41 C74.14,336.86 76.71,337.07 78.06,338.62 C79.42,340.18 80.16,343.91 80.50,346.75 C80.84,349.59 81.18,353.79 80.09,355.69 C79.01,357.58 76.10,358.12 74.00,358.12 C71.90,358.12 68.72,357.18 67.50,355.69 C66.28,354.20 66.69,351.49 66.69,349.19 C66.69,346.89 66.55,343.84 67.50,341.88Z" fill="#000" fill-opacity="0.06" stroke="#7a7a7a" stroke-opacity="0.55" stroke-width="0.6"/>
<path d="M69.00,343.75 C69.73,342.24 71.40,340.73 72.75,340.31 C74.10,339.90 76.08,340.05 77.12,341.25 C78.17,342.45 78.74,345.31 79.00,347.50 C79.26,349.69 79.52,352.92 78.69,354.38 C77.85,355.83 75.61,356.25 74.00,356.25 C72.39,356.25 69.94,355.52 69.00,354.38 C68.06,353.23 68.38,351.15 68.38,349.38 C68.38,347.60 68.27,345.26 69.00,343.75Z" fill="#000" fill-opacity="0.06" stroke="#7a7a7a" stroke-opacity="0.55" stroke-width="0.6"/>
<path d="M70.50,345.62 C71.01,344.57 72.18,343.51 73.12,343.22 C74.07,342.93 75.46,343.04 76.19,343.88 C76.92,344.71 77.32,346.72 77.50,348.25 C77.68,349.78 77.86,352.04 77.28,353.06 C76.70,354.08 75.13,354.38 74.00,354.38 C72.87,354.38 71.16,353.86 70.50,353.06 C69.84,352.26 70.06,350.80 70.06,349.56 C70.06,348.32 69.99,346.68 70.50,345.62Z" fill="#000" fill-opacity="0" stroke="#7a7a7a" stroke-opacity="0.55" stroke-width="0.6"/>
<path d="M72.00,347.50 C72.29,346.90 72.96,346.29 73.50,346.12 C74.04,345.96 74.83,346.02 75.25,346.50 C75.67,346.98 75.90,348.12 76.00,349.00 C76.10,349.88 76.21,351.17 75.88,351.75 C75.54,352.33 74.65,352.50 74.00,352.50 C73.35,352.50 72.38,352.21 72.00,351.75 C71.62,351.29 71.75,350.46 71.75,349.75 C71.75,349.04 71.71,348.10 72.00,347.50Z" fill="#000" fill-opacity="0" stroke="#7a7a7a" stroke-opacity="0.55" stroke-width="0.6"/>
<ellipse cx="74" cy="350" rx="1.3" ry="1.0" fill="#fff" fill-opacity="0.6"/>
<path d="M51.50,343.50 C51.75,341.83 52.50,338.58 54.00,337.50 C55.50,336.42 58.50,336.33 60.50,337.00 C62.50,337.67 65.42,339.75 66.00,341.50 C66.58,343.25 65.33,346.25 64.00,347.50 C62.67,348.75 59.92,349.00 58.00,349.00 C56.08,349.00 53.58,348.42 52.50,347.50 C51.42,346.58 51.25,345.17 51.50,343.50Z" fill="none" stroke="#3a3a3a" stroke-width="1.05"/>
<path d="M70.50,351.00 C70.67,349.55 71.83,348.22 73.00,347.80 C74.17,347.38 76.50,347.55 77.50,348.50 C78.50,349.45 79.08,352.08 79.00,353.50 C78.92,354.92 78.17,356.50 77.00,357.00 C75.83,357.50 73.08,357.50 72.00,356.50 C70.92,355.50 70.33,352.45 70.50,351.00Z" fill="none" stroke="#3a3a3a" stroke-width="1.05"/>
<rect x="44.7" y="331.8" width="22.89999999999999" height="15.5" fill="none" stroke="#5c5c5c" stroke-width="0.65"/>
<rect x="67.6" y="329.1" width="24.900000000000006" height="18.19999999999999" fill="none" stroke="#5c5c5c" stroke-width="0.65"/>
<rect x="63.6" y="348.0" width="26.9" height="13.399999999999977" fill="none" stroke="#5c5c5c" stroke-width="0.65"/>
<text x="77.0" y="369.6" font-size="9" text-anchor="middle" textLength="16.2" lengthAdjust="spacingAndGlyphs">25,7</text>
<text x="99.8" y="356.8" font-size="8.8" textLength="10.2" lengthAdjust="spacingAndGlyphs">T3</text>
<rect x="45.1" y="375.7" width="50.800000000000004" height="48.80000000000001" fill="none" stroke="#8a8a8a" stroke-width="0.9"/>
<line x1="44.1" y1="381.7" x2="45.4" y2="381.7" stroke="#777" stroke-width="0.6"/>
<line x1="44.1" y1="387.2" x2="45.4" y2="387.2" stroke="#777" stroke-width="0.6"/>
<line x1="44.1" y1="392.7" x2="45.4" y2="392.7" stroke="#777" stroke-width="0.6"/>
<line x1="44.1" y1="398.2" x2="45.4" y2="398.2" stroke="#777" stroke-width="0.6"/>
<line x1="44.1" y1="403.7" x2="45.4" y2="403.7" stroke="#777" stroke-width="0.6"/>
<line x1="44.1" y1="409.2" x2="45.4" y2="409.2" stroke="#777" stroke-width="0.6"/>
<line x1="44.1" y1="414.7" x2="45.4" y2="414.7" stroke="#777" stroke-width="0.6"/>
<line x1="44.1" y1="420.2" x2="45.4" y2="420.2" stroke="#777" stroke-width="0.6"/>
<line x1="48.1" y1="425.1" x2="56.1" y2="425.1" stroke="#666" stroke-width="0.9"/>
<line x1="59.1" y1="424.2" x2="59.1" y2="425.5" stroke="#888" stroke-width="0.6"/>
<line x1="65.6" y1="424.2" x2="65.6" y2="425.5" stroke="#888" stroke-width="0.6"/>
<line x1="72.1" y1="424.2" x2="72.1" y2="425.5" stroke="#888" stroke-width="0.6"/>
<line x1="78.6" y1="424.2" x2="78.6" y2="425.5" stroke="#888" stroke-width="0.6"/>
<line x1="85.1" y1="424.2" x2="85.1" y2="425.5" stroke="#888" stroke-width="0.6"/>
<line x1="91.6" y1="424.2" x2="91.6" y2="425.5" stroke="#888" stroke-width="0.6"/>
<path d="M74.00,375.60 C74.00,375.03 76.75,375.20 78.00,375.20 C79.25,375.20 81.50,375.03 81.50,375.60 C81.50,376.17 79.25,378.60 78.00,378.60 C76.75,378.60 74.00,376.17 74.00,375.60Z" fill="#000" fill-opacity="0.1" stroke="#7a7a7a" stroke-opacity="0.55" stroke-width="0.6"/>
<path d="M77.00,376.35 C77.00,376.21 77.69,376.25 78.00,376.25 C78.31,376.25 78.88,376.21 78.88,376.35 C78.88,376.49 78.31,377.10 78.00,377.10 C77.69,377.10 77.00,376.49 77.00,376.35Z" fill="#000" fill-opacity="0" stroke="#7a7a7a" stroke-opacity="0.55" stroke-width="0.6"/>
<path d="M48.50,396.00 C49.25,393.83 50.92,390.25 53.00,389.00 C55.08,387.75 58.75,387.83 61.00,388.50 C63.25,389.17 65.50,390.92 66.50,393.00 C67.50,395.08 67.75,398.83 67.00,401.00 C66.25,403.17 64.33,405.17 62.00,406.00 C59.67,406.83 55.25,406.67 53.00,406.00 C50.75,405.33 49.25,403.67 48.50,402.00 C47.75,400.33 47.75,398.17 48.50,396.00Z" fill="#000" fill-opacity="0.08" stroke="#7a7a7a" stroke-opacity="0.55" stroke-width="0.6"/>
<path d="M49.92,396.23 C50.56,394.38 51.98,391.34 53.75,390.27 C55.52,389.21 58.64,389.28 60.55,389.85 C62.46,390.42 64.38,391.90 65.22,393.68 C66.07,395.45 66.29,398.63 65.65,400.48 C65.01,402.32 63.38,404.02 61.40,404.73 C59.42,405.43 55.66,405.29 53.75,404.73 C51.84,404.16 50.56,402.74 49.92,401.32 C49.29,399.91 49.29,398.07 49.92,396.23Z" fill="#000" fill-opacity="0.08" stroke="#7a7a7a" stroke-opacity="0.55" stroke-width="0.6"/>
<path d="M51.35,396.45 C51.88,394.93 53.04,392.43 54.50,391.55 C55.96,390.68 58.52,390.73 60.10,391.20 C61.68,391.67 63.25,392.89 63.95,394.35 C64.65,395.81 64.83,398.43 64.30,399.95 C63.77,401.47 62.43,402.87 60.80,403.45 C59.17,404.03 56.08,403.92 54.50,403.45 C52.92,402.98 51.88,401.82 51.35,400.65 C50.83,399.48 50.83,397.97 51.35,396.45Z" fill="#000" fill-opacity="0.08" stroke="#7a7a7a" stroke-opacity="0.55" stroke-width="0.6"/>
<path d="M52.77,396.68 C53.19,395.48 54.10,393.51 55.25,392.82 C56.40,392.14 58.41,392.18 59.65,392.55 C60.89,392.92 62.12,393.88 62.67,395.02 C63.22,396.17 63.36,398.23 62.95,399.43 C62.54,400.62 61.48,401.72 60.20,402.18 C58.92,402.63 56.49,402.54 55.25,402.18 C54.01,401.81 53.19,400.89 52.77,399.98 C52.36,399.06 52.36,397.87 52.77,396.68Z" fill="#000" fill-opacity="0" stroke="#7a7a7a" stroke-opacity="0.55" stroke-width="0.6"/>
<path d="M54.20,396.90 C54.50,396.03 55.17,394.60 56.00,394.10 C56.83,393.60 58.30,393.63 59.20,393.90 C60.10,394.17 61.00,394.87 61.40,395.70 C61.80,396.53 61.90,398.03 61.60,398.90 C61.30,399.77 60.53,400.57 59.60,400.90 C58.67,401.23 56.90,401.17 56.00,400.90 C55.10,400.63 54.50,399.97 54.20,399.30 C53.90,398.63 53.90,397.77 54.20,396.90Z" fill="#000" fill-opacity="0" stroke="#7a7a7a" stroke-opacity="0.55" stroke-width="0.6"/>
<path d="M55.62,397.12 C55.81,396.58 56.23,395.69 56.75,395.38 C57.27,395.06 58.19,395.08 58.75,395.25 C59.31,395.42 59.88,395.85 60.12,396.38 C60.38,396.90 60.44,397.83 60.25,398.38 C60.06,398.92 59.58,399.42 59.00,399.62 C58.42,399.83 57.31,399.79 56.75,399.62 C56.19,399.46 55.81,399.04 55.62,398.62 C55.44,398.21 55.44,397.67 55.62,397.12Z" fill="#000" fill-opacity="0" stroke="#7a7a7a" stroke-opacity="0.55" stroke-width="0.6"/>
<ellipse cx="58" cy="397.5" rx="1.3" ry="1.0" fill="#fff" fill-opacity="0.6"/>
<path d="M66.00,394.00 C66.67,391.17 67.83,388.25 69.00,387.00 C70.17,385.75 71.83,386.00 73.00,386.50 C74.17,387.00 74.92,388.42 76.00,390.00 C77.08,391.58 78.75,393.33 79.50,396.00 C80.25,398.67 81.08,403.25 80.50,406.00 C79.92,408.75 78.08,411.50 76.00,412.50 C73.92,413.50 69.83,413.42 68.00,412.00 C66.17,410.58 65.33,407.00 65.00,404.00 C64.67,401.00 65.33,396.83 66.00,394.00Z" fill="#000" fill-opacity="0.07" stroke="#7a7a7a" stroke-opacity="0.55" stroke-width="0.6"/>
<path d="M67.22,395.31 C67.76,393.01 68.71,390.64 69.66,389.62 C70.60,388.61 71.96,388.81 72.91,389.22 C73.85,389.62 74.46,390.78 75.34,392.06 C76.22,393.35 77.58,394.77 78.19,396.94 C78.80,399.10 79.47,402.83 79.00,405.06 C78.53,407.30 77.04,409.53 75.34,410.34 C73.65,411.16 70.33,411.09 68.84,409.94 C67.35,408.79 66.68,405.88 66.41,403.44 C66.14,401.00 66.68,397.61 67.22,395.31Z" fill="#000" fill-opacity="0.07" stroke="#7a7a7a" stroke-opacity="0.55" stroke-width="0.6"/>
<path d="M68.44,396.62 C68.85,394.85 69.58,393.03 70.31,392.25 C71.04,391.47 72.08,391.62 72.81,391.94 C73.54,392.25 74.01,393.14 74.69,394.12 C75.36,395.11 76.41,396.21 76.88,397.88 C77.34,399.54 77.86,402.41 77.50,404.12 C77.14,405.84 75.99,407.56 74.69,408.19 C73.39,408.81 70.83,408.76 69.69,407.88 C68.54,406.99 68.02,404.75 67.81,402.88 C67.60,401.00 68.02,398.40 68.44,396.62Z" fill="#000" fill-opacity="0.07" stroke="#7a7a7a" stroke-opacity="0.55" stroke-width="0.6"/>
<path d="M69.66,397.94 C69.95,396.70 70.46,395.42 70.97,394.88 C71.48,394.33 72.21,394.44 72.72,394.66 C73.23,394.88 73.56,395.49 74.03,396.19 C74.51,396.88 75.23,397.65 75.56,398.81 C75.89,399.98 76.26,401.98 76.00,403.19 C75.74,404.39 74.94,405.59 74.03,406.03 C73.12,406.47 71.33,406.43 70.53,405.81 C69.73,405.19 69.36,403.62 69.22,402.31 C69.07,401.00 69.36,399.18 69.66,397.94Z" fill="#000" fill-opacity="0" stroke="#7a7a7a" stroke-opacity="0.55" stroke-width="0.6"/>
<path d="M70.88,399.25 C71.04,398.54 71.33,397.81 71.62,397.50 C71.92,397.19 72.33,397.25 72.62,397.38 C72.92,397.50 73.10,397.85 73.38,398.25 C73.65,398.65 74.06,399.08 74.25,399.75 C74.44,400.42 74.65,401.56 74.50,402.25 C74.35,402.94 73.90,403.62 73.38,403.88 C72.85,404.12 71.83,404.10 71.38,403.75 C70.92,403.40 70.71,402.50 70.62,401.75 C70.54,401.00 70.71,399.96 70.88,399.25Z" fill="#000" fill-opacity="0" stroke="#7a7a7a" stroke-opacity="0.55" stroke-width="0.6"/>
<ellipse cx="72.5" cy="401" rx="1.3" ry="1.0" fill="#fff" fill-opacity="0.6"/>
<path d="M67.00,402.00 C67.33,400.33 68.08,398.33 69.50,397.50 C70.92,396.67 74.00,396.25 75.50,397.00 C77.00,397.75 78.17,400.08 78.50,402.00 C78.83,403.92 78.58,407.12 77.50,408.50 C76.42,409.88 73.67,410.47 72.00,410.30 C70.33,410.13 68.33,408.88 67.50,407.50 C66.67,406.12 66.67,403.67 67.00,402.00Z" fill="none" stroke="#3a3a3a" stroke-width="1.05"/>
<path d="M69.50,402.50 C69.58,401.42 71.00,400.25 72.00,400.00 C73.00,399.75 74.92,400.08 75.50,401.00 C76.08,401.92 76.17,404.58 75.50,405.50 C74.83,406.42 72.50,407.00 71.50,406.50 C70.50,406.00 69.42,403.58 69.50,402.50Z" fill="none" stroke="#555" stroke-width="0.8"/>
<rect x="45.7" y="386.8" width="21.89999999999999" height="16.19999999999999" fill="none" stroke="#5c5c5c" stroke-width="0.65"/>
<rect x="67.6" y="383.5" width="24.60000000000001" height="19.5" fill="none" stroke="#5c5c5c" stroke-width="0.65"/>
<rect x="63.6" y="403.4" width="26.199999999999996" height="12.100000000000023" fill="none" stroke="#5c5c5c" stroke-width="0.65"/>
<text x="77.0" y="423.9" font-size="9" text-anchor="middle" textLength="16.2" lengthAdjust="spacingAndGlyphs">21,4</text>
<text x="99.8" y="413.1" font-size="8.8" textLength="10.2" lengthAdjust="spacingAndGlyphs">T3</text>
<text x="25.3" y="285.2" font-size="8.8" text-anchor="end" textLength="13.9" lengthAdjust="spacingAndGlyphs">BM</text>
<text x="25.3" y="297.2" font-size="8.8" text-anchor="end" textLength="17.0" lengthAdjust="spacingAndGlyphs">only</text>
<text x="25.3" y="345.6" font-size="8.8" text-anchor="end" textLength="13.9" lengthAdjust="spacingAndGlyphs">BM</text>
<text x="25.3" y="356.4" font-size="8.8" text-anchor="end" textLength="15.7" lengthAdjust="spacingAndGlyphs">+Sp</text>
<text x="25.4" y="409.3" font-size="8.8" text-anchor="end" textLength="14.8" lengthAdjust="spacingAndGlyphs">Syn</text>
<line x1="34.5" y1="284.0" x2="34.5" y2="338.0" stroke="#231f20" stroke-width="1.3"/>
<polygon points="34.5,278.0 31.4,286.0 37.6,286.0" fill="#231f20"/>
<text x="0" y="0" font-size="10.5" text-anchor="middle" transform="translate(36.4 349.8) rotate(-90)" textLength="15.6" lengthAdjust="spacingAndGlyphs">IgM</text>
<polyline points="34.5,361.5 34.5,435.9 55.8,435.9" fill="none" stroke="#231f20" stroke-width="1.3"/>
<text x="60.3" y="439.7" font-size="10.5" textLength="21.3" lengthAdjust="spacingAndGlyphs">CD23</text>
<line x1="84.7" y1="436.0" x2="94.5" y2="436.0" stroke="#231f20" stroke-width="1.3"/>
<polygon points="100.9,436.0 93.10000000000001,433.0 93.10000000000001,439.0" fill="#231f20"/>
<line x1="163.5" y1="273.7" x2="163.5" y2="424.1" stroke="#231f20" stroke-width="1.4"/>
<line x1="160.2" y1="276.8" x2="163.5" y2="276.8" stroke="#231f20" stroke-width="1.2"/>
<text x="157.2" y="280.1" font-size="9.6" text-anchor="end">30</text>
<line x1="160.2" y1="325.9" x2="163.5" y2="325.9" stroke="#231f20" stroke-width="1.2"/>
<text x="157.2" y="329.2" font-size="9.6" text-anchor="end">20</text>
<line x1="160.2" y1="374.8" x2="163.5" y2="374.8" stroke="#231f20" stroke-width="1.2"/>
<text x="157.2" y="378.1" font-size="9.6" text-anchor="end">10</text>
<line x1="160.2" y1="423.6" x2="163.5" y2="423.6" stroke="#231f20" stroke-width="1.2"/>
<text x="157.2" y="426.90000000000003" font-size="9.6" text-anchor="end">0</text>
<line x1="162.8" y1="423.4" x2="248.2" y2="423.4" stroke="#231f20" stroke-width="1.4"/>
<line x1="177.7" y1="423.4" x2="177.7" y2="426.6" stroke="#231f20" stroke-width="1.2"/>
<line x1="205.8" y1="423.4" x2="205.8" y2="426.6" stroke="#231f20" stroke-width="1.2"/>
<line x1="234.0" y1="423.4" x2="234.0" y2="426.6" stroke="#231f20" stroke-width="1.2"/>
<rect x="169.1" y="361.9" width="17.6" height="61.5" fill="#d5928a"/>
<rect x="197.2" y="318.1" width="17.3" height="105.29999999999995" fill="#9197bc"/>
<rect x="225.1" y="341.1" width="17.5" height="82.29999999999995" fill="#b8d19a"/>
<circle cx="177.7" cy="314.8" r="3.65" fill="none" stroke="#bb1c38" stroke-width="1.2"/>
<circle cx="177.7" cy="323.0" r="3.65" fill="none" stroke="#bb1c38" stroke-width="1.2"/>
<circle cx="180.5" cy="349.6" r="3.65" fill="none" stroke="#bb1c38" stroke-width="1.2"/>
<circle cx="175.6" cy="352.0" r="3.65" fill="none" stroke="#bb1c38" stroke-width="1.2"/>
<circle cx="177.3" cy="358.6" r="3.65" fill="none" stroke="#bb1c38" stroke-width="1.2"/>
<circle cx="180.5" cy="361.0" r="3.65" fill="none" stroke="#bb1c38" stroke-width="1.2"/>
<circle cx="173.2" cy="370.8" r="3.65" fill="none" stroke="#bb1c38" stroke-width="1.2"/>
<circle cx="176.4" cy="372.5" r="3.65" fill="none" stroke="#bb1c38" stroke-width="1.2"/>
<circle cx="181.3" cy="374.0" r="3.65" fill="none" stroke="#bb1c38" stroke-width="1.2"/>
<circle cx="171.5" cy="376.6" r="3.65" fill="none" stroke="#bb1c38" stroke-width="1.2"/>
<circle cx="178.0" cy="377.4" r="3.65" fill="none" stroke="#bb1c38" stroke-width="1.2"/>
<circle cx="183.0" cy="379.0" r="3.65" fill="none" stroke="#bb1c38" stroke-width="1.2"/>
<circle cx="177.3" cy="388.0" r="3.65" fill="none" stroke="#bb1c38" stroke-width="1.2"/>
<circle cx="200.6" cy="301.0" r="3.8" fill="#2b4a8b"/>
<circle cx="211.6" cy="301.0" r="3.8" fill="#2b4a8b"/>
<circle cx="207.2" cy="305.0" r="3.8" fill="#2b4a8b"/>
<circle cx="203.9" cy="308.3" r="3.8" fill="#2b4a8b"/>
<circle cx="206.7" cy="315.7" r="3.8" fill="#2b4a8b"/>
<circle cx="203.9" cy="325.5" r="3.8" fill="#2b4a8b"/>
<circle cx="207.8" cy="332.0" r="3.8" fill="#2b4a8b"/>
<circle cx="204.2" cy="338.5" r="3.8" fill="#2b4a8b"/>
<circle cx="205.5" cy="321.0" r="3.8" fill="#2b4a8b"/>
<circle cx="208.0" cy="311.5" r="3.8" fill="#2b4a8b"/>
<polygon points="233.6,315.7 229.1,323.5 238.1,323.5" fill="#5aa83c"/>
<polygon points="240.2,330.8 235.7,338.6 244.7,338.6" fill="#5aa83c"/>
<polygon points="228.7,335.7 224.2,343.5 233.2,343.5" fill="#5aa83c"/>
<polygon points="239.3,348.0 234.8,355.8 243.8,355.8" fill="#5aa83c"/>
<polygon points="227.9,352.9 223.4,360.7 232.4,360.7" fill="#5aa83c"/>
<line x1="177.7" y1="355.3" x2="177.7" y2="366.8" stroke="#231f20" stroke-width="1.5"/>
<line x1="173.2" y1="355.3" x2="182.2" y2="355.3" stroke="#231f20" stroke-width="1.5"/>
<line x1="173.2" y1="366.8" x2="182.2" y2="366.8" stroke="#231f20" stroke-width="1.5"/>
<line x1="205.6" y1="312.4" x2="205.6" y2="322.2" stroke="#231f20" stroke-width="1.5"/>
<line x1="201.1" y1="312.4" x2="210.1" y2="312.4" stroke="#231f20" stroke-width="1.5"/>
<line x1="201.1" y1="322.2" x2="210.1" y2="322.2" stroke="#231f20" stroke-width="1.5"/>
<line x1="234.0" y1="333.3" x2="234.0" y2="346.3" stroke="#231f20" stroke-width="1.5"/>
<line x1="229.5" y1="333.3" x2="238.5" y2="333.3" stroke="#231f20" stroke-width="1.5"/>
<line x1="229.5" y1="346.3" x2="238.5" y2="346.3" stroke="#231f20" stroke-width="1.5"/>
<line x1="176.4" y1="275.3" x2="236.9" y2="275.3" stroke="#231f20" stroke-width="1.3"/>
<text x="206.8" y="271.6" font-size="8.6" text-anchor="middle" textLength="11.3" lengthAdjust="spacingAndGlyphs">NS</text>
<line x1="176.4" y1="292.8" x2="205.0" y2="292.8" stroke="#231f20" stroke-width="1.3"/>
<polygon points="186.90,285.00 187.43,286.27 188.80,286.38 187.76,287.28 188.08,288.62 186.90,287.90 185.72,288.62 186.04,287.28 185.00,286.38 186.37,286.27" fill="#231f20"/>
<polygon points="190.80,285.00 191.33,286.27 192.70,286.38 191.66,287.28 191.98,288.62 190.80,287.90 189.62,288.62 189.94,287.28 188.90,286.38 190.27,286.27" fill="#231f20"/>
<polygon points="194.70,285.00 195.23,286.27 196.60,286.38 195.56,287.28 195.88,288.62 194.70,287.90 193.52,288.62 193.84,287.28 192.80,286.38 194.17,286.27" fill="#231f20"/>
<line x1="208.3" y1="292.8" x2="236.9" y2="292.8" stroke="#231f20" stroke-width="1.3"/>
<text x="222.5" y="289.6" font-size="8.6" text-anchor="middle" textLength="11.0" lengthAdjust="spacingAndGlyphs">NS</text>
<text x="177.7" y="439.3" font-size="9.4" text-anchor="middle" textLength="13.9" lengthAdjust="spacingAndGlyphs">BM</text>
<text x="177.9" y="449.4" font-size="9.4" text-anchor="middle" textLength="17.3" lengthAdjust="spacingAndGlyphs">only</text>
<text x="205.5" y="439.3" font-size="9.4" text-anchor="middle" textLength="13.9" lengthAdjust="spacingAndGlyphs">BM</text>
<text x="205.5" y="449.4" font-size="9.4" text-anchor="middle" textLength="16.1" lengthAdjust="spacingAndGlyphs">+Sp</text>
<text x="234.0" y="439.3" font-size="9.4" text-anchor="middle" textLength="15.5" lengthAdjust="spacingAndGlyphs">Syn</text>
<text x="0" y="0" font-size="11.3" text-anchor="middle" transform="translate(139.6 348.4) rotate(-90)" textLength="112.8" lengthAdjust="spacingAndGlyphs">% T3 (IgM<tspan font-size="8.6" dy="-3.6">low</tspan><tspan dy="3.6">CD23</tspan><tspan font-size="8.6" dy="-3.6">high</tspan><tspan dy="3.6">) B cells</tspan></text>
<text x="266.2" y="252.2" font-size="13.8" font-weight="bold" fill="#000">D</text>
<line x1="293.8" y1="274.1" x2="293.8" y2="424.3" stroke="#231f20" stroke-width="1.4"/>
<line x1="290.6" y1="423.6" x2="293.8" y2="423.6" stroke="#231f20" stroke-width="1.2"/>
<text x="286.4" y="426.90000000000003" font-size="9.6" text-anchor="end">0</text>
<line x1="290.6" y1="399.23" x2="293.8" y2="399.23" stroke="#231f20" stroke-width="1.2"/>
<text x="286.4" y="402.53000000000003" font-size="9.6" text-anchor="end">1</text>
<line x1="290.6" y1="374.86" x2="293.8" y2="374.86" stroke="#231f20" stroke-width="1.2"/>
<text x="286.4" y="378.16" font-size="9.6" text-anchor="end">2</text>
<line x1="290.6" y1="350.49" x2="293.8" y2="350.49" stroke="#231f20" stroke-width="1.2"/>
<text x="286.4" y="353.79" font-size="9.6" text-anchor="end">3</text>
<line x1="290.6" y1="326.12" x2="293.8" y2="326.12" stroke="#231f20" stroke-width="1.2"/>
<text x="286.4" y="329.42" font-size="9.6" text-anchor="end">4</text>
<line x1="290.6" y1="301.75" x2="293.8" y2="301.75" stroke="#231f20" stroke-width="1.2"/>
<text x="286.4" y="305.05" font-size="9.6" text-anchor="end">5</text>
<line x1="290.6" y1="277.38" x2="293.8" y2="277.38" stroke="#231f20" stroke-width="1.2"/>
<text x="286.4" y="280.68" font-size="9.6" text-anchor="end">6</text>
<line x1="293.1" y1="423.6" x2="376.5" y2="423.6" stroke="#231f20" stroke-width="1.4"/>
<line x1="306.7" y1="423.6" x2="306.7" y2="426.8" stroke="#231f20" stroke-width="1.2"/>
<line x1="334.8" y1="423.6" x2="334.8" y2="426.8" stroke="#231f20" stroke-width="1.2"/>
<line x1="362.6" y1="423.6" x2="362.6" y2="426.8" stroke="#231f20" stroke-width="1.2"/>
<rect x="298.0" y="326.9" width="17.9" height="96.70000000000005" fill="#d5928a"/>
<rect x="326.3" y="355.5" width="17.2" height="68.10000000000002" fill="#9197bc"/>
<rect x="354.0" y="303.2" width="17.5" height="120.40000000000003" fill="#b8d19a"/>
<circle cx="306.5" cy="289.8" r="3.65" fill="none" stroke="#bb1c38" stroke-width="1.2"/>
<circle cx="305.2" cy="296.3" r="3.65" fill="none" stroke="#bb1c38" stroke-width="1.2"/>
<circle cx="306.5" cy="300.9" r="3.65" fill="none" stroke="#bb1c38" stroke-width="1.2"/>
<circle cx="301.3" cy="302.8" r="3.65" fill="none" stroke="#bb1c38" stroke-width="1.2"/>
<circle cx="311.7" cy="303.5" r="3.65" fill="none" stroke="#bb1c38" stroke-width="1.2"/>
<circle cx="309.1" cy="305.4" r="3.65" fill="none" stroke="#bb1c38" stroke-width="1.2"/>
<circle cx="303.3" cy="308.0" r="3.65" fill="none" stroke="#bb1c38" stroke-width="1.2"/>
<circle cx="307.8" cy="309.3" r="3.65" fill="none" stroke="#bb1c38" stroke-width="1.2"/>
<circle cx="305.9" cy="313.2" r="3.65" fill="none" stroke="#bb1c38" stroke-width="1.2"/>
<circle cx="302.6" cy="326.3" r="3.65" fill="none" stroke="#bb1c38" stroke-width="1.2"/>
<circle cx="311.1" cy="325.6" r="3.65" fill="none" stroke="#bb1c38" stroke-width="1.2"/>
<circle cx="303.9" cy="327.8" r="3.65" fill="none" stroke="#bb1c38" stroke-width="1.2"/>
<circle cx="301.3" cy="329.8" r="3.65" fill="none" stroke="#bb1c38" stroke-width="1.2"/>
<circle cx="306.5" cy="336.3" r="3.65" fill="none" stroke="#bb1c38" stroke-width="1.2"/>
<circle cx="303.9" cy="343.5" r="3.65" fill="none" stroke="#bb1c38" stroke-width="1.2"/>
<circle cx="308.5" cy="344.1" r="3.65" fill="none" stroke="#bb1c38" stroke-width="1.2"/>
<circle cx="306.5" cy="346.0" r="3.65" fill="none" stroke="#bb1c38" stroke-width="1.2"/>
<circle cx="305.2" cy="349.3" r="3.65" fill="none" stroke="#bb1c38" stroke-width="1.2"/>
<circle cx="310.4" cy="350.6" r="3.65" fill="none" stroke="#bb1c38" stroke-width="1.2"/>
<circle cx="303.3" cy="355.9" r="3.65" fill="none" stroke="#bb1c38" stroke-width="1.2"/>
<circle cx="306.7" cy="394.4" r="3.65" fill="none" stroke="#bb1c38" stroke-width="1.2"/>
<circle cx="332.6" cy="325.2" r="3.8" fill="#2b4a8b"/>
<circle cx="336.5" cy="331.1" r="3.8" fill="#2b4a8b"/>
<circle cx="328.7" cy="338.9" r="3.8" fill="#2b4a8b"/>
<circle cx="333.9" cy="338.9" r="3.8" fill="#2b4a8b"/>
<circle cx="340.4" cy="338.9" r="3.8" fill="#2b4a8b"/>
<circle cx="334.5" cy="343.5" r="3.8" fill="#2b4a8b"/>
<circle cx="330.0" cy="354.5" r="3.8" fill="#2b4a8b"/>
<circle cx="337.2" cy="361.0" r="3.8" fill="#2b4a8b"/>
<circle cx="336.5" cy="368.2" r="3.8" fill="#2b4a8b"/>
<circle cx="334.5" cy="376.0" r="3.8" fill="#2b4a8b"/>
<circle cx="332.7" cy="377.6" r="3.8" fill="#2b4a8b"/>
<circle cx="336.7" cy="379.3" r="3.8" fill="#2b4a8b"/>
<circle cx="334.8" cy="388.0" r="3.8" fill="#2b4a8b"/>
<circle cx="331.5" cy="346.5" r="3.8" fill="#2b4a8b"/>
<circle cx="338.5" cy="347.0" r="3.8" fill="#2b4a8b"/>
<circle cx="341.2" cy="361.5" r="3.8" fill="#2b4a8b"/>
<polygon points="362.8,279.8 358.40000000000003,287.5 367.2,287.5" fill="#5aa83c"/>
<polygon points="357.4,288.5 353.0,296.2 361.79999999999995,296.2" fill="#5aa83c"/>
<polygon points="368.8,295.0 364.40000000000003,302.7 373.2,302.7" fill="#5aa83c"/>
<polygon points="357.4,298.8 353.0,306.5 361.79999999999995,306.5" fill="#5aa83c"/>
<polygon points="363.4,297.5 359.0,305.2 367.79999999999995,305.2" fill="#5aa83c"/>
<polygon points="368.8,301.5 364.40000000000003,309.2 373.2,309.2" fill="#5aa83c"/>
<polygon points="357.4,308.6 353.0,316.3 361.79999999999995,316.3" fill="#5aa83c"/>
<line x1="306.4" y1="321.5" x2="306.4" y2="332.2" stroke="#231f20" stroke-width="1.5"/>
<line x1="301.9" y1="321.5" x2="310.9" y2="321.5" stroke="#231f20" stroke-width="1.5"/>
<line x1="301.9" y1="332.2" x2="310.9" y2="332.2" stroke="#231f20" stroke-width="1.5"/>
<line x1="334.9" y1="348.7" x2="334.9" y2="358.1" stroke="#231f20" stroke-width="1.5"/>
<line x1="330.9" y1="348.7" x2="338.9" y2="348.7" stroke="#231f20" stroke-width="1.5"/>
<line x1="330.9" y1="358.1" x2="338.9" y2="358.1" stroke="#231f20" stroke-width="1.5"/>
<line x1="362.6" y1="299.1" x2="362.6" y2="308.0" stroke="#231f20" stroke-width="1.5"/>
<line x1="358.5" y1="299.1" x2="366.70000000000005" y2="299.1" stroke="#231f20" stroke-width="1.5"/>
<line x1="358.5" y1="308.0" x2="366.70000000000005" y2="308.0" stroke="#231f20" stroke-width="1.5"/>
<line x1="305.6" y1="260.9" x2="365.7" y2="260.9" stroke="#231f20" stroke-width="1.3"/>
<polygon points="335.70,253.30 336.23,254.57 337.60,254.68 336.56,255.58 336.88,256.92 335.70,256.20 334.52,256.92 334.84,255.58 333.80,254.68 335.17,254.57" fill="#231f20"/>
<line x1="305.6" y1="275.7" x2="334.3" y2="275.7" stroke="#231f20" stroke-width="1.3"/>
<polygon points="321.70,267.90 322.23,269.17 323.60,269.28 322.56,270.18 322.88,271.52 321.70,270.80 320.52,271.52 320.84,270.18 319.80,269.28 321.17,269.17" fill="#231f20"/>
<line x1="336.5" y1="275.7" x2="365.2" y2="275.7" stroke="#231f20" stroke-width="1.3"/>
<polygon points="345.05,267.90 345.58,269.17 346.95,269.28 345.91,270.18 346.23,271.52 345.05,270.80 343.87,271.52 344.19,270.18 343.15,269.28 344.52,269.17" fill="#231f20"/>
<polygon points="348.95,267.90 349.48,269.17 350.85,269.28 349.81,270.18 350.13,271.52 348.95,270.80 347.77,271.52 348.09,270.18 347.05,269.28 348.42,269.17" fill="#231f20"/>
<polygon points="352.85,267.90 353.38,269.17 354.75,269.28 353.71,270.18 354.03,271.52 352.85,270.80 351.67,271.52 351.99,270.18 350.95,269.28 352.32,269.17" fill="#231f20"/>
<polygon points="356.75,267.90 357.28,269.17 358.65,269.28 357.61,270.18 357.93,271.52 356.75,270.80 355.57,271.52 355.89,270.18 354.85,269.28 356.22,269.17" fill="#231f20"/>
<text x="306.5" y="439.3" font-size="9.4" text-anchor="middle" textLength="13.9" lengthAdjust="spacingAndGlyphs">BM</text>
<text x="306.9" y="449.4" font-size="9.4" text-anchor="middle" textLength="17.3" lengthAdjust="spacingAndGlyphs">only</text>
<text x="334.6" y="439.3" font-size="9.4" text-anchor="middle" textLength="13.9" lengthAdjust="spacingAndGlyphs">BM</text>
<text x="334.8" y="449.4" font-size="9.4" text-anchor="middle" textLength="15.9" lengthAdjust="spacingAndGlyphs">+Sp</text>
<text x="362.8" y="439.3" font-size="9.4" text-anchor="middle" textLength="14.2" lengthAdjust="spacingAndGlyphs">Syn</text>
<text x="0" y="0" font-size="10.8" text-anchor="middle" transform="translate(275.8 346.0) rotate(-90)" textLength="78.5" lengthAdjust="spacingAndGlyphs">BAFF-R (MFI X 100)</text>
<text x="396.0" y="252.2" font-size="13.8" font-weight="bold" fill="#000">E</text>
<text x="447.5" y="251.0" font-size="11" text-anchor="middle" textLength="27.3" lengthAdjust="spacingAndGlyphs">BAFF</text>
<text x="447.2" y="264.3" font-size="10.6" text-anchor="middle" textLength="58.0" lengthAdjust="spacingAndGlyphs">dissociation</text>
<text x="446.8" y="352.6" font-size="10.6" text-anchor="middle" textLength="58.0" lengthAdjust="spacingAndGlyphs">Acid elution</text>
<line x1="410.8" y1="333.5" x2="413.3" y2="333.5" stroke="#231f20" stroke-width="1.0"/>
<line x1="411.6" y1="331.008" x2="413.3" y2="331.008" stroke="#231f20" stroke-width="0.8"/>
<line x1="411.6" y1="328.516" x2="413.3" y2="328.516" stroke="#231f20" stroke-width="0.8"/>
<line x1="411.6" y1="326.024" x2="413.3" y2="326.024" stroke="#231f20" stroke-width="0.8"/>
<line x1="411.6" y1="323.532" x2="413.3" y2="323.532" stroke="#231f20" stroke-width="0.8"/>
<line x1="410.8" y1="321.04" x2="413.3" y2="321.04" stroke="#231f20" stroke-width="1.0"/>
<line x1="411.6" y1="318.548" x2="413.3" y2="318.548" stroke="#231f20" stroke-width="0.8"/>
<line x1="411.6" y1="316.05600000000004" x2="413.3" y2="316.05600000000004" stroke="#231f20" stroke-width="0.8"/>
<line x1="411.6" y1="313.564" x2="413.3" y2="313.564" stroke="#231f20" stroke-width="0.8"/>
<line x1="411.6" y1="311.072" x2="413.3" y2="311.072" stroke="#231f20" stroke-width="0.8"/>
<line x1="410.8" y1="308.58" x2="413.3" y2="308.58" stroke="#231f20" stroke-width="1.0"/>
<line x1="411.6" y1="306.08799999999997" x2="413.3" y2="306.08799999999997" stroke="#231f20" stroke-width="0.8"/>
<line x1="411.6" y1="303.596" x2="413.3" y2="303.596" stroke="#231f20" stroke-width="0.8"/>
<line x1="411.6" y1="301.104" x2="413.3" y2="301.104" stroke="#231f20" stroke-width="0.8"/>
<line x1="411.6" y1="298.61199999999997" x2="413.3" y2="298.61199999999997" stroke="#231f20" stroke-width="0.8"/>
<line x1="410.8" y1="296.12" x2="413.3" y2="296.12" stroke="#231f20" stroke-width="1.0"/>
<line x1="411.6" y1="293.628" x2="413.3" y2="293.628" stroke="#231f20" stroke-width="0.8"/>
<line x1="411.6" y1="291.136" x2="413.3" y2="291.136" stroke="#231f20" stroke-width="0.8"/>
<line x1="411.6" y1="288.644" x2="413.3" y2="288.644" stroke="#231f20" stroke-width="0.8"/>
<line x1="411.6" y1="286.152" x2="413.3" y2="286.152" stroke="#231f20" stroke-width="0.8"/>
<line x1="410.8" y1="283.65999999999997" x2="413.3" y2="283.65999999999997" stroke="#231f20" stroke-width="1.0"/>
<line x1="411.6" y1="281.16799999999995" x2="413.3" y2="281.16799999999995" stroke="#231f20" stroke-width="0.8"/>
<line x1="411.6" y1="278.676" x2="413.3" y2="278.676" stroke="#231f20" stroke-width="0.8"/>
<line x1="411.6" y1="276.18399999999997" x2="413.3" y2="276.18399999999997" stroke="#231f20" stroke-width="0.8"/>
<line x1="411.6" y1="273.69199999999995" x2="413.3" y2="273.69199999999995" stroke="#231f20" stroke-width="0.8"/>
<line x1="410.8" y1="271.2" x2="413.3" y2="271.2" stroke="#231f20" stroke-width="1.0"/>
<line x1="414.2" y1="333.5" x2="414.2" y2="335.9" stroke="#231f20" stroke-width="1.0"/>
<line x1="419.55833392281886" y1="333.5" x2="419.55833392281886" y2="335.1" stroke="#231f20" stroke-width="0.8"/>
<line x1="422.69275833400997" y1="333.5" x2="422.69275833400997" y2="335.1" stroke="#231f20" stroke-width="0.8"/>
<line x1="424.91666784563773" y1="333.5" x2="424.91666784563773" y2="335.1" stroke="#231f20" stroke-width="0.8"/>
<line x1="426.6416660771811" y1="333.5" x2="426.6416660771811" y2="335.1" stroke="#231f20" stroke-width="0.8"/>
<line x1="428.05109225682884" y1="333.5" x2="428.05109225682884" y2="335.1" stroke="#231f20" stroke-width="0.8"/>
<line x1="429.2427451122538" y1="333.5" x2="429.2427451122538" y2="335.1" stroke="#231f20" stroke-width="0.8"/>
<line x1="430.2750017684566" y1="333.5" x2="430.2750017684566" y2="335.1" stroke="#231f20" stroke-width="0.8"/>
<line x1="431.18551666802" y1="333.5" x2="431.18551666802" y2="335.1" stroke="#231f20" stroke-width="0.8"/>
<line x1="432.0" y1="333.5" x2="432.0" y2="335.9" stroke="#231f20" stroke-width="1.0"/>
<line x1="437.3583339228189" y1="333.5" x2="437.3583339228189" y2="335.1" stroke="#231f20" stroke-width="0.8"/>
<line x1="440.49275833401" y1="333.5" x2="440.49275833401" y2="335.1" stroke="#231f20" stroke-width="0.8"/>
<line x1="442.71666784563774" y1="333.5" x2="442.71666784563774" y2="335.1" stroke="#231f20" stroke-width="0.8"/>
<line x1="444.44166607718114" y1="333.5" x2="444.44166607718114" y2="335.1" stroke="#231f20" stroke-width="0.8"/>
<line x1="445.85109225682885" y1="333.5" x2="445.85109225682885" y2="335.1" stroke="#231f20" stroke-width="0.8"/>
<line x1="447.0427451122538" y1="333.5" x2="447.0427451122538" y2="335.1" stroke="#231f20" stroke-width="0.8"/>
<line x1="448.0750017684566" y1="333.5" x2="448.0750017684566" y2="335.1" stroke="#231f20" stroke-width="0.8"/>
<line x1="448.98551666801995" y1="333.5" x2="448.98551666801995" y2="335.1" stroke="#231f20" stroke-width="0.8"/>
<line x1="449.8" y1="333.5" x2="449.8" y2="335.9" stroke="#231f20" stroke-width="1.0"/>
<line x1="455.1583339228189" y1="333.5" x2="455.1583339228189" y2="335.1" stroke="#231f20" stroke-width="0.8"/>
<line x1="458.29275833401" y1="333.5" x2="458.29275833401" y2="335.1" stroke="#231f20" stroke-width="0.8"/>
<line x1="460.51666784563776" y1="333.5" x2="460.51666784563776" y2="335.1" stroke="#231f20" stroke-width="0.8"/>
<line x1="462.24166607718115" y1="333.5" x2="462.24166607718115" y2="335.1" stroke="#231f20" stroke-width="0.8"/>
<line x1="463.65109225682886" y1="333.5" x2="463.65109225682886" y2="335.1" stroke="#231f20" stroke-width="0.8"/>
<line x1="464.8427451122538" y1="333.5" x2="464.8427451122538" y2="335.1" stroke="#231f20" stroke-width="0.8"/>
<line x1="465.8750017684566" y1="333.5" x2="465.8750017684566" y2="335.1" stroke="#231f20" stroke-width="0.8"/>
<line x1="466.78551666802" y1="333.5" x2="466.78551666802" y2="335.1" stroke="#231f20" stroke-width="0.8"/>
<line x1="467.6" y1="333.5" x2="467.6" y2="335.9" stroke="#231f20" stroke-width="1.0"/>
<line x1="472.9583339228189" y1="333.5" x2="472.9583339228189" y2="335.1" stroke="#231f20" stroke-width="0.8"/>
<line x1="476.09275833401" y1="333.5" x2="476.09275833401" y2="335.1" stroke="#231f20" stroke-width="0.8"/>
<line x1="478.31666784563777" y1="333.5" x2="478.31666784563777" y2="335.1" stroke="#231f20" stroke-width="0.8"/>
<line x1="410.8" y1="424.0" x2="413.3" y2="424.0" stroke="#231f20" stroke-width="1.0"/>
<line x1="411.6" y1="421.436" x2="413.3" y2="421.436" stroke="#231f20" stroke-width="0.8"/>
<line x1="411.6" y1="418.872" x2="413.3" y2="418.872" stroke="#231f20" stroke-width="0.8"/>
<line x1="411.6" y1="416.308" x2="413.3" y2="416.308" stroke="#231f20" stroke-width="0.8"/>
<line x1="411.6" y1="413.74399999999997" x2="413.3" y2="413.74399999999997" stroke="#231f20" stroke-width="0.8"/>
<line x1="410.8" y1="411.18" x2="413.3" y2="411.18" stroke="#231f20" stroke-width="1.0"/>
<line x1="411.6" y1="408.616" x2="413.3" y2="408.616" stroke="#231f20" stroke-width="0.8"/>
<line x1="411.6" y1="406.052" x2="413.3" y2="406.052" stroke="#231f20" stroke-width="0.8"/>
<line x1="411.6" y1="403.488" x2="413.3" y2="403.488" stroke="#231f20" stroke-width="0.8"/>
<line x1="411.6" y1="400.924" x2="413.3" y2="400.924" stroke="#231f20" stroke-width="0.8"/>
<line x1="410.8" y1="398.36" x2="413.3" y2="398.36" stroke="#231f20" stroke-width="1.0"/>
<line x1="411.6" y1="395.796" x2="413.3" y2="395.796" stroke="#231f20" stroke-width="0.8"/>
<line x1="411.6" y1="393.232" x2="413.3" y2="393.232" stroke="#231f20" stroke-width="0.8"/>
<line x1="411.6" y1="390.668" x2="413.3" y2="390.668" stroke="#231f20" stroke-width="0.8"/>
<line x1="411.6" y1="388.104" x2="413.3" y2="388.104" stroke="#231f20" stroke-width="0.8"/>
<line x1="410.8" y1="385.53999999999996" x2="413.3" y2="385.53999999999996" stroke="#231f20" stroke-width="1.0"/>
<line x1="411.6" y1="382.97599999999994" x2="413.3" y2="382.97599999999994" stroke="#231f20" stroke-width="0.8"/>
<line x1="411.6" y1="380.412" x2="413.3" y2="380.412" stroke="#231f20" stroke-width="0.8"/>
<line x1="411.6" y1="377.84799999999996" x2="413.3" y2="377.84799999999996" stroke="#231f20" stroke-width="0.8"/>
<line x1="411.6" y1="375.28399999999993" x2="413.3" y2="375.28399999999993" stroke="#231f20" stroke-width="0.8"/>
<line x1="410.8" y1="372.71999999999997" x2="413.3" y2="372.71999999999997" stroke="#231f20" stroke-width="1.0"/>
<line x1="411.6" y1="370.15599999999995" x2="413.3" y2="370.15599999999995" stroke="#231f20" stroke-width="0.8"/>
<line x1="411.6" y1="367.592" x2="413.3" y2="367.592" stroke="#231f20" stroke-width="0.8"/>
<line x1="411.6" y1="365.02799999999996" x2="413.3" y2="365.02799999999996" stroke="#231f20" stroke-width="0.8"/>
<line x1="411.6" y1="362.46399999999994" x2="413.3" y2="362.46399999999994" stroke="#231f20" stroke-width="0.8"/>
<line x1="410.8" y1="359.9" x2="413.3" y2="359.9" stroke="#231f20" stroke-width="1.0"/>
<line x1="414.2" y1="424.0" x2="414.2" y2="426.4" stroke="#231f20" stroke-width="1.0"/>
<line x1="419.55833392281886" y1="424.0" x2="419.55833392281886" y2="425.6" stroke="#231f20" stroke-width="0.8"/>
<line x1="422.69275833400997" y1="424.0" x2="422.69275833400997" y2="425.6" stroke="#231f20" stroke-width="0.8"/>
<line x1="424.91666784563773" y1="424.0" x2="424.91666784563773" y2="425.6" stroke="#231f20" stroke-width="0.8"/>
<line x1="426.6416660771811" y1="424.0" x2="426.6416660771811" y2="425.6" stroke="#231f20" stroke-width="0.8"/>
<line x1="428.05109225682884" y1="424.0" x2="428.05109225682884" y2="425.6" stroke="#231f20" stroke-width="0.8"/>
<line x1="429.2427451122538" y1="424.0" x2="429.2427451122538" y2="425.6" stroke="#231f20" stroke-width="0.8"/>
<line x1="430.2750017684566" y1="424.0" x2="430.2750017684566" y2="425.6" stroke="#231f20" stroke-width="0.8"/>
<line x1="431.18551666802" y1="424.0" x2="431.18551666802" y2="425.6" stroke="#231f20" stroke-width="0.8"/>
<line x1="432.0" y1="424.0" x2="432.0" y2="426.4" stroke="#231f20" stroke-width="1.0"/>
<line x1="437.3583339228189" y1="424.0" x2="437.3583339228189" y2="425.6" stroke="#231f20" stroke-width="0.8"/>
<line x1="440.49275833401" y1="424.0" x2="440.49275833401" y2="425.6" stroke="#231f20" stroke-width="0.8"/>
<line x1="442.71666784563774" y1="424.0" x2="442.71666784563774" y2="425.6" stroke="#231f20" stroke-width="0.8"/>
<line x1="444.44166607718114" y1="424.0" x2="444.44166607718114" y2="425.6" stroke="#231f20" stroke-width="0.8"/>
<line x1="445.85109225682885" y1="424.0" x2="445.85109225682885" y2="425.6" stroke="#231f20" stroke-width="0.8"/>
<line x1="447.0427451122538" y1="424.0" x2="447.0427451122538" y2="425.6" stroke="#231f20" stroke-width="0.8"/>
<line x1="448.0750017684566" y1="424.0" x2="448.0750017684566" y2="425.6" stroke="#231f20" stroke-width="0.8"/>
<line x1="448.98551666801995" y1="424.0" x2="448.98551666801995" y2="425.6" stroke="#231f20" stroke-width="0.8"/>
<line x1="449.8" y1="424.0" x2="449.8" y2="426.4" stroke="#231f20" stroke-width="1.0"/>
<line x1="455.1583339228189" y1="424.0" x2="455.1583339228189" y2="425.6" stroke="#231f20" stroke-width="0.8"/>
<line x1="458.29275833401" y1="424.0" x2="458.29275833401" y2="425.6" stroke="#231f20" stroke-width="0.8"/>
<line x1="460.51666784563776" y1="424.0" x2="460.51666784563776" y2="425.6" stroke="#231f20" stroke-width="0.8"/>
<line x1="462.24166607718115" y1="424.0" x2="462.24166607718115" y2="425.6" stroke="#231f20" stroke-width="0.8"/>
<line x1="463.65109225682886" y1="424.0" x2="463.65109225682886" y2="425.6" stroke="#231f20" stroke-width="0.8"/>
<line x1="464.8427451122538" y1="424.0" x2="464.8427451122538" y2="425.6" stroke="#231f20" stroke-width="0.8"/>
<line x1="465.8750017684566" y1="424.0" x2="465.8750017684566" y2="425.6" stroke="#231f20" stroke-width="0.8"/>
<line x1="466.78551666802" y1="424.0" x2="466.78551666802" y2="425.6" stroke="#231f20" stroke-width="0.8"/>
<line x1="467.6" y1="424.0" x2="467.6" y2="426.4" stroke="#231f20" stroke-width="1.0"/>
<line x1="472.9583339228189" y1="424.0" x2="472.9583339228189" y2="425.6" stroke="#231f20" stroke-width="0.8"/>
<line x1="476.09275833401" y1="424.0" x2="476.09275833401" y2="425.6" stroke="#231f20" stroke-width="0.8"/>
<line x1="478.31666784563777" y1="424.0" x2="478.31666784563777" y2="425.6" stroke="#231f20" stroke-width="0.8"/>
<polyline points="414.90,333.30 416.12,332.55 417.35,331.80 418.57,330.79 419.80,330.34 421.40,326.07 423.00,322.20 424.65,315.73 426.30,308.67 427.95,301.26 429.60,294.74 431.20,287.61 432.80,281.03 434.05,279.35 435.30,276.37 437.70,275.14 438.95,275.98 440.20,277.34 441.40,281.35 442.60,286.33 444.25,292.27 445.90,297.62 447.55,306.04 449.20,314.17 450.80,320.06 452.40,327.26 453.62,328.52 454.85,329.65 456.07,330.81 457.30,332.70 458.56,332.73 459.82,332.77 461.08,332.80 462.34,332.83 463.61,332.87 464.87,332.90 466.13,332.93 467.39,332.97 468.65,333.00 469.91,333.03 471.17,333.07 472.43,333.10 473.69,333.13 474.96,333.17 476.22,333.20 477.48,333.23 478.74,333.27 480.00,333.30" fill="none" stroke="#5aa83c" stroke-width="1.5" stroke-linejoin="round"/>
<polyline points="414.90,333.30 416.12,332.80 417.33,332.30 418.55,331.80 419.77,330.93 420.98,330.24 422.20,330.15 423.57,327.65 424.93,325.36 426.30,323.66 427.95,318.64 429.60,312.72 431.20,305.32 432.80,297.21 434.45,293.60 436.10,289.19 437.75,284.54 439.40,279.95 440.60,277.90 441.80,276.70 443.05,278.36 444.30,280.13 445.90,285.02 447.50,289.07 449.15,297.38 450.80,305.98 452.45,315.12 454.10,324.30 455.70,328.38 457.30,331.90 458.62,332.06 459.94,332.22 461.26,332.38 462.58,332.54 463.90,332.70 465.14,332.72 466.38,332.75 467.62,332.77 468.85,332.79 470.09,332.82 471.33,332.84 472.57,332.86 473.81,332.88 475.05,332.91 476.28,332.93 477.52,332.95 478.76,332.98 480.00,333.00" fill="none" stroke="#bb1c38" stroke-width="1.5" stroke-linejoin="round"/>
<polyline points="420.50,333.30 423.90,330.30 426.30,314.00 428.80,297.60 431.20,281.30 433.70,274.00 436.10,278.90 439.40,292.70 442.60,310.70 445.90,325.40 449.20,331.90 454.00,333.30 480.00,333.30" fill="none" stroke="#2b4a8b" stroke-width="1.5" stroke-linejoin="round" stroke-dasharray="3.2,2"/>
<polyline points="414.50,423.80 415.90,423.25 417.30,422.70 418.67,419.86 420.03,417.01 421.40,414.10 423.05,406.89 424.70,399.34 426.35,393.77 428.00,387.13 429.60,379.42 431.20,371.74 432.85,369.00 434.50,366.80 436.40,362.81 438.60,369.67 439.93,374.35 441.27,379.54 442.60,384.47 443.83,387.59 445.05,391.47 446.27,395.20 447.50,399.52 449.15,405.87 450.80,411.76 452.45,417.30 454.10,421.54 455.40,422.47 456.70,423.03 458.00,423.60 459.22,423.61 460.44,423.62 461.67,423.63 462.89,423.64 464.11,423.66 465.33,423.67 466.56,423.68 467.78,423.69 469.00,423.70 470.22,423.71 471.44,423.72 472.67,423.73 473.89,423.74 475.11,423.76 476.33,423.77 477.56,423.78 478.78,423.79 480.00,423.80" fill="none" stroke="#5aa83c" stroke-width="1.5" stroke-linejoin="round"/>
<polyline points="414.50,423.80 415.90,423.65 417.30,423.50 418.73,422.90 420.15,422.30 421.57,422.11 423.00,421.55 424.32,418.30 425.64,415.21 426.96,412.06 428.28,410.21 429.60,407.16 430.83,403.89 432.05,399.67 433.27,396.55 434.50,392.18 436.10,388.02 437.70,383.02 439.35,376.88 441.00,371.35 442.60,366.65 443.85,365.57 445.10,365.68 446.20,367.93 447.50,365.27 449.20,371.72 450.40,379.71 451.60,388.08 452.85,397.17 454.10,406.63 455.70,414.17 457.30,420.73 458.52,420.82 459.75,420.93 460.98,421.68 462.20,422.70 463.47,422.74 464.74,422.79 466.01,422.83 467.29,422.87 468.56,422.91 469.83,422.96 471.10,423.00 472.37,423.04 473.64,423.09 474.91,423.13 476.19,423.17 477.46,423.21 478.73,423.26 480.00,423.30" fill="none" stroke="#bb1c38" stroke-width="1.5" stroke-linejoin="round"/>
<polyline points="421.50,423.80 423.00,421.90 426.30,408.90 428.80,390.90 430.40,373.00 432.80,364.80 435.30,364.00 436.90,369.70 439.40,382.70 442.60,399.10 445.90,415.40 449.20,422.70 480.00,423.80" fill="none" stroke="#2b4a8b" stroke-width="1.5" stroke-linejoin="round" stroke-dasharray="3.2,2"/>
<rect x="413.3" y="269.7" width="67.1" height="63.8" fill="none" stroke="#231f20" stroke-width="1.3"/>
<rect x="413.4" y="358.4" width="67.2" height="65.6" fill="none" stroke="#231f20" stroke-width="1.3"/>
<line x1="454.5" y1="292.3" x2="475.3" y2="292.3" stroke="#231f20" stroke-width="1.2"/>
<polygon points="449.5,292.3 455.5,289.7 455.5,294.90000000000003" fill="#231f20"/>
<line x1="454.5" y1="316.2" x2="475.3" y2="316.2" stroke="#231f20" stroke-width="1.2"/>
<polygon points="449.5,316.2 455.5,313.59999999999997 455.5,318.8" fill="#231f20"/>
<line x1="454.5" y1="378.7" x2="474.1" y2="378.7" stroke="#231f20" stroke-width="1.2"/>
<polygon points="449.5,378.7 455.5,376.09999999999997 455.5,381.3" fill="#231f20"/>
<line x1="454.5" y1="406.2" x2="472.2" y2="406.2" stroke="#231f20" stroke-width="1.2"/>
<polygon points="449.5,406.2 455.5,403.59999999999997 455.5,408.8" fill="#231f20"/>
<text x="484.2" y="295.4" font-size="10.8" textLength="27.4" lengthAdjust="spacingAndGlyphs">2.5 hrs</text>
<text x="484.2" y="319.3" font-size="10.8" textLength="12.6" lengthAdjust="spacingAndGlyphs">0 h</text>
<text x="483.7" y="378.4" font-size="10.8" textLength="27.9" lengthAdjust="spacingAndGlyphs">Citrate</text>
<text x="483.7" y="389.2" font-size="10.8" textLength="24.8" lengthAdjust="spacingAndGlyphs">buffer</text>
<text x="483.7" y="409.5" font-size="10.8" textLength="11.7" lengthAdjust="spacingAndGlyphs">Nil</text>
<line x1="402.4" y1="281.0" x2="402.4" y2="308.5" stroke="#231f20" stroke-width="1.2"/>
<polygon points="402.4,275.9 399.59999999999997,282.4 405.2,282.4" fill="#231f20"/>
<text x="0" y="0" font-size="10.4" text-anchor="middle" transform="translate(404.8 351.4) rotate(-90)" textLength="79.3" lengthAdjust="spacingAndGlyphs">Normalized to mode</text>
<polyline points="402.3,394.0 402.3,439.2 427.7,439.2" fill="none" stroke="#231f20" stroke-width="1.2"/>
<text x="431.2" y="442.6" font-size="11.2" textLength="26.5" lengthAdjust="spacingAndGlyphs">BAFF-R</text>
<line x1="461.0" y1="439.1" x2="477.5" y2="439.1" stroke="#231f20" stroke-width="1.2"/>
<polygon points="482.5,439.1 476.5,436.5 476.5,441.70000000000005" fill="#231f20"/>
<rect x="0" y="0" width="520" height="1.1" fill="#000"/>
<rect x="0" y="0" width="1.3" height="460" fill="#000"/>
<rect x="518.6" y="0" width="1.4" height="460" fill="#000"/>
<rect x="0" y="458.7" width="520" height="1.3" fill="#000"/>
</svg></body></html>
